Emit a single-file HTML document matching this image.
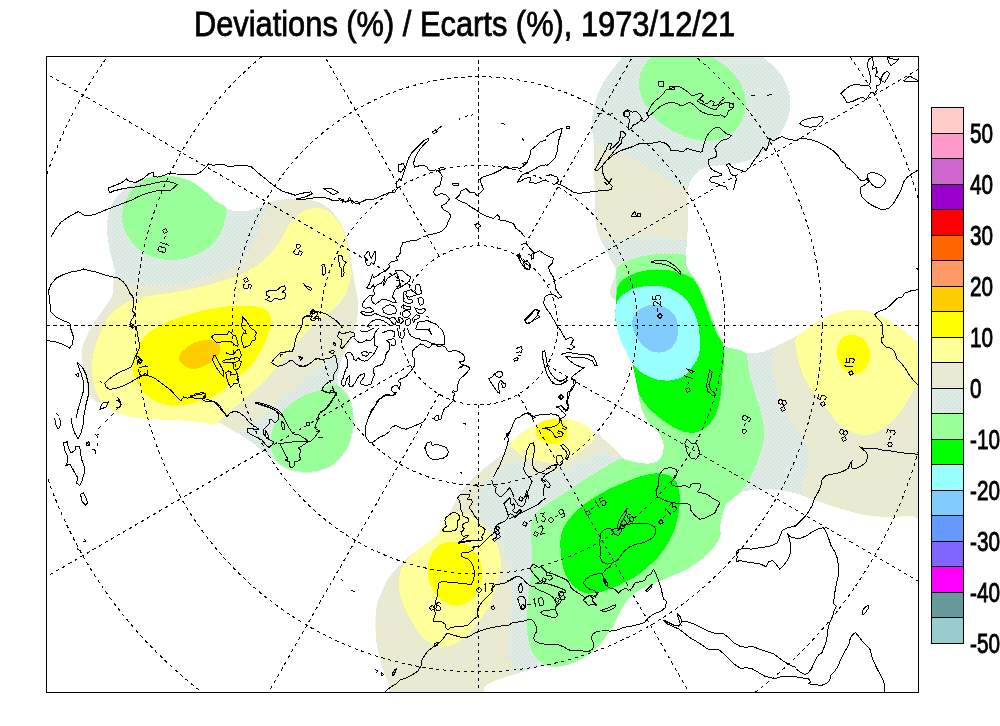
<!DOCTYPE html>
<html><head><meta charset="utf-8"><title>Deviations</title>
<style>
html,body{margin:0;padding:0;background:#fff;}
body{width:1000px;height:726px;overflow:hidden;position:relative;font-family:"Liberation Sans",sans-serif;}
svg{position:absolute;left:0;top:0;}
.t{font-family:"Liberation Sans",sans-serif;fill:#000;stroke:#000;stroke-width:0.5px;filter:url(#noop);}
</style></head><body>
<svg width="1000" height="726" viewBox="0 0 1000 726" shape-rendering="crispEdges">
<defs>
<pattern id="dY" width="4" height="4" patternUnits="userSpaceOnUse"><rect width="4" height="4" fill="#E6E6EE"/><rect x="0" y="0" width="1" height="1" fill="#FFFF00"/><rect x="2" y="2" width="1" height="1" fill="#FFFF00"/></pattern>
<pattern id="dG" width="4" height="4" patternUnits="userSpaceOnUse"><rect width="4" height="4" fill="#E6E6EE"/><rect x="0" y="0" width="1" height="1" fill="#99FF99"/><rect x="2" y="2" width="1" height="1" fill="#99FF99"/></pattern>
<filter id="noop" x="-5%" y="-20%" width="110%" height="140%"><feOffset dx="0" dy="0"/></filter>
<clipPath id="clip"><rect x="47" y="57" width="871" height="635"/></clipPath>
</defs>
<rect width="1000" height="726" fill="#fff"/>
<!--FILLS-->
<g clip-path="url(#clip)" stroke="none">
<defs>
<clipPath id="cL"><path d="M138.0,181.0 C134.7,182.6 129.7,185.2 126.0,188.0 C122.3,190.8 118.7,194.3 116.0,198.0 C113.3,201.7 111.5,205.7 110.0,210.0 C108.5,214.3 107.3,219.0 107.0,224.0 C106.7,229.0 107.3,234.7 108.0,240.0 C108.7,245.3 109.8,250.7 111.0,256.0 C112.2,261.3 114.7,267.3 115.0,272.0 C115.3,276.7 113.3,280.3 113.0,284.0 C112.7,287.7 114.2,290.3 113.0,294.0 C111.8,297.7 108.8,301.7 106.0,306.0 C103.2,310.3 99.2,315.0 96.0,320.0 C92.8,325.0 89.3,331.0 87.0,336.0 C84.7,341.0 82.7,345.0 82.0,350.0 C81.3,355.0 82.5,361.0 83.0,366.0 C83.5,371.0 84.0,375.3 85.0,380.0 C86.0,384.7 87.0,390.3 89.0,394.0 C91.0,397.7 94.2,400.7 97.0,402.0 C99.8,403.3 102.5,400.8 106.0,402.0 C109.5,403.2 113.7,407.0 118.0,409.0 C122.3,411.0 126.7,412.8 132.0,414.0 C137.3,415.2 143.7,415.5 150.0,416.0 C156.3,416.5 163.3,416.7 170.0,417.0 C176.7,417.3 184.0,417.5 190.0,418.0 C196.0,418.5 201.0,419.2 206.0,420.0 C211.0,420.8 215.7,421.3 220.0,423.0 C224.3,424.7 228.0,427.7 232.0,430.0 C236.0,432.3 240.3,434.7 244.0,437.0 C247.7,439.3 250.7,441.5 254.0,444.0 C257.3,446.5 261.2,449.7 264.0,452.0 C266.8,454.3 268.5,456.0 271.0,458.0 C273.5,460.0 276.0,462.0 279.0,464.0 C282.0,466.0 285.2,468.6 289.0,470.0 C292.8,471.4 297.5,472.3 302.0,472.6 C306.5,472.9 311.3,472.9 316.0,472.0 C320.7,471.1 326.0,469.2 330.0,467.0 C334.0,464.8 337.0,462.3 340.0,459.0 C343.0,455.7 345.8,451.5 348.0,447.0 C350.2,442.5 352.0,436.8 353.0,432.0 C354.0,427.2 354.2,422.7 354.0,418.0 C353.8,413.3 353.0,408.0 352.0,404.0 C351.0,400.0 349.5,396.5 348.0,394.0 C346.5,391.5 344.7,390.5 343.0,389.0 C341.3,387.5 338.8,386.8 338.0,385.0 C337.2,383.2 337.8,380.5 338.0,378.0 C338.2,375.5 338.3,373.3 339.0,370.0 C339.7,366.7 340.7,361.7 342.0,358.0 C343.3,354.3 345.3,351.3 347.0,348.0 C348.7,344.7 350.6,341.7 352.0,338.0 C353.4,334.3 354.7,330.0 355.6,326.0 C356.5,322.0 357.2,318.0 357.6,314.0 C358.0,310.0 358.3,306.0 358.0,302.0 C357.7,298.0 356.7,293.7 356.0,290.0 C355.3,286.3 354.7,283.7 354.0,280.0 C353.3,276.3 352.7,272.3 352.0,268.0 C351.3,263.7 350.8,258.7 350.0,254.0 C349.2,249.3 348.3,244.7 347.0,240.0 C345.7,235.3 344.2,230.3 342.0,226.0 C339.8,221.7 337.0,217.5 334.0,214.0 C331.0,210.5 328.0,207.3 324.0,205.0 C320.0,202.7 315.7,201.0 310.0,200.0 C304.3,199.0 296.0,198.8 290.0,199.0 C284.0,199.2 278.3,200.0 274.0,201.0 C269.7,202.0 266.7,203.8 264.0,205.0 C261.3,206.2 261.0,207.0 258.0,208.0 C255.0,209.0 250.0,210.5 246.0,211.0 C242.0,211.5 237.3,211.5 234.0,211.0 C230.7,210.5 229.0,209.7 226.0,208.0 C223.0,206.3 219.3,203.7 216.0,201.0 C212.7,198.3 209.7,195.0 206.0,192.0 C202.3,189.0 198.0,185.3 194.0,183.0 C190.0,180.7 186.0,179.2 182.0,178.0 C178.0,176.8 173.7,176.4 170.0,176.0 C166.3,175.6 162.7,175.6 160.0,175.6 C157.3,175.6 156.3,175.5 154.0,176.0 C151.7,176.5 148.7,177.7 146.0,178.5 C143.3,179.3 141.3,179.4 138.0,181.0 Z"/></clipPath>
<clipPath id="cU1"><path d="M650.0,30.0 C641.0,33.3 640.5,37.5 636.0,42.0 C631.5,46.5 627.5,51.4 623.0,56.7 C618.5,62.0 613.2,68.0 609.0,74.0 C604.8,80.0 600.7,86.7 598.0,93.0 C595.3,99.3 594.0,106.0 593.0,112.0 C592.0,118.0 591.8,123.7 592.0,129.0 C592.2,134.3 593.6,135.5 594.0,144.0 C594.4,152.5 594.3,170.7 594.5,180.0 C594.7,189.3 594.8,192.7 595.0,200.0 C595.2,207.3 595.2,217.7 596.0,224.0 C596.8,230.3 598.3,233.7 600.0,238.0 C601.7,242.3 604.0,246.0 606.0,250.0 C608.0,254.0 610.3,258.3 612.0,262.0 C613.7,265.7 615.3,265.7 616.0,272.0 C616.7,278.3 602.0,295.3 616.0,300.0 C630.0,304.7 687.7,304.7 700.0,300.0 C712.3,295.3 692.3,278.3 690.0,272.0 C687.7,265.7 686.5,267.3 686.0,262.0 C685.5,256.7 686.7,246.3 687.0,240.0 C687.3,233.7 687.8,228.5 688.0,224.0 C688.2,219.5 688.2,217.2 688.0,213.0 C687.8,208.8 687.0,203.3 687.0,199.0 C687.0,194.7 687.0,190.7 688.0,187.0 C689.0,183.3 691.0,179.8 693.0,177.0 C695.0,174.2 696.8,171.8 700.0,170.0 C703.2,168.2 707.7,166.8 712.0,166.0 C716.3,165.2 720.8,165.7 726.0,165.0 C731.2,164.3 737.7,163.5 743.0,162.0 C748.3,160.5 753.2,159.0 758.0,156.0 C762.8,153.0 767.8,148.5 772.0,144.0 C776.2,139.5 780.2,133.8 783.0,129.0 C785.8,124.2 787.8,120.2 789.0,115.0 C790.2,109.8 790.5,103.2 790.0,98.0 C789.5,92.8 788.2,88.8 786.0,84.0 C783.8,79.2 781.0,73.5 777.0,69.0 C773.0,64.5 767.3,61.2 762.0,56.7 C756.7,52.2 751.2,46.5 745.0,42.0 C738.8,37.5 734.2,33.3 725.0,30.0 C715.8,26.7 702.5,22.0 690.0,22.0 C677.5,22.0 659.0,26.7 650.0,30.0 Z"/></clipPath>
<clipPath id="cU2"><path d="M616.0,279.0 C616.2,274.2 615.8,270.0 617.6,267.0 C619.4,264.0 622.9,262.8 627.0,261.0 C631.1,259.2 636.8,257.6 642.0,256.4 C647.2,255.2 652.8,254.4 658.0,254.0 C663.2,253.6 668.5,253.8 673.0,254.0 C677.5,254.2 682.8,253.2 685.0,255.0 C687.2,256.8 685.2,262.2 686.0,265.0 C686.8,267.8 688.2,269.2 690.0,272.0 C691.8,274.8 695.3,279.0 697.0,282.0 C698.7,285.0 698.5,286.3 700.0,290.0 C701.5,293.7 704.0,299.0 706.0,304.0 C708.0,309.0 710.0,314.8 712.0,320.0 C714.0,325.2 716.0,330.8 718.0,335.0 C720.0,339.2 722.3,342.8 724.0,345.0 C725.7,347.2 724.7,346.8 728.0,348.0 C731.3,349.2 738.7,351.7 744.0,352.4 C749.3,353.1 755.2,353.1 760.0,352.4 C764.8,351.7 768.3,349.7 772.5,348.0 C776.7,346.3 781.1,343.8 785.0,342.0 C788.9,340.2 792.4,338.8 795.6,337.0 C798.8,335.2 800.9,333.6 804.0,331.4 C807.1,329.2 810.7,326.4 814.5,324.0 C818.3,321.6 822.8,318.7 827.0,316.7 C831.2,314.7 835.5,313.1 840.0,312.0 C844.5,310.9 849.2,310.1 854.0,310.0 C858.8,309.9 864.3,310.4 869.0,311.5 C873.7,312.6 877.8,314.6 882.0,316.7 C886.2,318.8 890.0,321.4 894.0,324.0 C898.0,326.6 902.5,329.7 906.0,332.5 C909.5,335.3 911.8,338.4 915.0,341.0 C918.2,343.6 920.0,333.2 925.0,348.0 C930.0,362.8 944.2,402.1 945.0,430.0 C945.8,457.9 935.5,501.2 930.0,515.5 C924.5,529.8 917.2,515.8 912.0,516.0 C906.8,516.2 903.9,516.4 898.5,516.5 C893.1,516.6 885.6,516.9 879.6,516.5 C873.6,516.1 868.4,515.4 862.8,514.4 C857.2,513.4 851.6,511.8 846.0,510.2 C840.4,508.6 834.7,506.9 829.0,505.0 C823.3,503.1 817.2,500.8 812.0,499.0 C806.8,497.2 802.8,495.4 798.0,494.0 C793.2,492.6 788.0,491.5 783.0,490.7 C778.0,489.9 772.8,489.3 768.0,489.2 C763.2,489.1 758.5,489.5 754.0,490.0 C749.5,490.5 744.5,490.6 741.0,492.0 C737.5,493.4 735.5,496.5 733.0,498.7 C730.5,500.9 727.7,502.6 726.0,505.0 C724.3,507.4 724.0,509.9 723.0,513.4 C722.0,516.9 720.5,522.1 720.0,526.0 C719.5,529.9 721.7,532.7 720.0,537.0 C718.3,541.3 714.0,547.2 710.0,551.6 C706.0,556.0 701.2,560.0 696.0,563.6 C690.8,567.2 684.7,570.3 679.0,573.0 C673.3,575.7 667.2,577.8 662.0,580.0 C656.8,582.2 652.3,584.0 648.0,586.0 C643.7,588.0 639.7,589.3 636.0,592.0 C632.3,594.7 628.8,598.3 626.0,602.0 C623.2,605.7 621.2,610.0 619.0,614.0 C616.8,618.0 615.3,622.0 613.0,626.0 C610.7,630.0 608.0,634.0 605.0,638.0 C602.0,642.0 598.7,646.7 595.0,650.0 C591.3,653.3 587.3,655.6 583.0,658.0 C578.7,660.4 573.8,662.9 569.0,664.4 C564.2,665.9 557.7,666.8 554.0,667.0 C550.3,667.2 549.3,665.5 547.0,665.5 C544.7,665.5 543.2,666.0 540.0,666.8 C536.8,667.6 532.8,669.0 528.0,670.4 C523.2,671.8 516.7,673.4 511.0,675.2 C505.3,677.0 498.5,679.0 494.0,681.0 C489.5,683.0 487.0,684.3 484.0,687.0 C481.0,689.7 490.7,695.3 476.0,697.0 C461.3,698.7 410.3,699.0 396.0,697.0 C381.7,695.0 392.0,689.0 390.0,685.0 C388.0,681.0 385.7,677.5 384.0,673.0 C382.3,668.5 381.2,663.2 380.0,658.0 C378.8,652.8 377.2,647.5 376.5,642.0 C375.8,636.5 375.5,630.7 375.5,625.0 C375.5,619.3 375.6,613.2 376.5,608.0 C377.4,602.8 379.1,598.8 381.0,594.0 C382.9,589.2 385.2,583.5 388.0,579.0 C390.8,574.5 394.3,570.8 398.0,567.0 C401.7,563.2 406.3,559.0 410.0,556.0 C413.7,553.0 416.9,550.8 420.0,549.0 C423.1,547.2 426.0,547.3 428.8,545.0 C431.6,542.7 434.5,538.1 436.8,535.0 C439.1,531.9 440.8,529.4 442.4,526.4 C444.0,523.4 444.9,519.5 446.4,516.8 C447.9,514.1 449.9,512.5 451.2,510.4 C452.5,508.3 453.1,506.7 454.4,504.0 C455.7,501.3 457.1,497.6 459.2,494.4 C461.3,491.2 463.7,488.5 467.2,484.8 C470.7,481.1 475.2,476.3 480.0,472.0 C484.8,467.7 491.8,462.6 496.0,459.2 C500.2,455.8 502.8,453.9 505.0,451.5 C507.2,449.1 506.8,447.6 509.0,445.0 C511.2,442.4 514.8,438.7 518.0,436.0 C521.2,433.3 524.5,431.2 528.0,429.0 C531.5,426.8 535.5,424.6 539.0,423.0 C542.5,421.4 545.0,420.4 549.0,419.6 C553.0,418.8 558.7,418.2 563.0,418.4 C567.3,418.6 571.2,419.8 575.0,421.0 C578.8,422.2 583.0,423.8 586.0,425.6 C589.0,427.4 591.0,430.2 593.0,431.6 C595.0,433.0 596.2,432.6 598.0,434.0 C599.8,435.4 601.3,437.7 604.0,440.0 C606.7,442.3 611.2,445.3 614.0,448.0 C616.8,450.7 619.2,454.2 621.0,456.0 C622.8,457.8 622.5,457.9 625.0,459.0 C627.5,460.1 632.2,461.6 636.0,462.4 C639.8,463.2 644.4,463.8 648.0,463.6 C651.6,463.4 655.2,462.8 657.6,461.2 C660.0,459.6 661.4,456.8 662.4,454.0 C663.4,451.2 664.0,447.6 663.6,444.4 C663.2,441.2 661.6,437.5 660.0,434.8 C658.4,432.1 655.8,429.8 654.0,428.0 C652.2,426.2 651.2,427.1 649.2,424.0 C647.2,420.9 643.8,414.4 642.0,409.6 C640.2,404.8 639.4,400.0 638.4,395.2 C637.4,390.4 637.0,386.0 636.0,380.8 C635.0,375.6 634.0,368.8 632.4,364.0 C630.8,359.2 628.2,356.0 626.4,352.0 C624.6,348.0 623.3,344.2 621.6,340.0 C619.9,335.8 617.5,331.5 616.4,327.0 C615.3,322.5 615.3,316.2 615.2,313.0 C615.1,309.8 615.5,310.8 615.7,308.0 C615.9,305.2 616.4,300.8 616.4,296.0 C616.4,291.2 615.8,283.8 616.0,279.0 Z"/></clipPath>
</defs>
<path d="M138.0,181.0 C134.7,182.6 129.7,185.2 126.0,188.0 C122.3,190.8 118.7,194.3 116.0,198.0 C113.3,201.7 111.5,205.7 110.0,210.0 C108.5,214.3 107.3,219.0 107.0,224.0 C106.7,229.0 107.3,234.7 108.0,240.0 C108.7,245.3 109.8,250.7 111.0,256.0 C112.2,261.3 114.7,267.3 115.0,272.0 C115.3,276.7 113.3,280.3 113.0,284.0 C112.7,287.7 114.2,290.3 113.0,294.0 C111.8,297.7 108.8,301.7 106.0,306.0 C103.2,310.3 99.2,315.0 96.0,320.0 C92.8,325.0 89.3,331.0 87.0,336.0 C84.7,341.0 82.7,345.0 82.0,350.0 C81.3,355.0 82.5,361.0 83.0,366.0 C83.5,371.0 84.0,375.3 85.0,380.0 C86.0,384.7 87.0,390.3 89.0,394.0 C91.0,397.7 94.2,400.7 97.0,402.0 C99.8,403.3 102.5,400.8 106.0,402.0 C109.5,403.2 113.7,407.0 118.0,409.0 C122.3,411.0 126.7,412.8 132.0,414.0 C137.3,415.2 143.7,415.5 150.0,416.0 C156.3,416.5 163.3,416.7 170.0,417.0 C176.7,417.3 184.0,417.5 190.0,418.0 C196.0,418.5 201.0,419.2 206.0,420.0 C211.0,420.8 215.7,421.3 220.0,423.0 C224.3,424.7 228.0,427.7 232.0,430.0 C236.0,432.3 240.3,434.7 244.0,437.0 C247.7,439.3 250.7,441.5 254.0,444.0 C257.3,446.5 261.2,449.7 264.0,452.0 C266.8,454.3 268.5,456.0 271.0,458.0 C273.5,460.0 276.0,462.0 279.0,464.0 C282.0,466.0 285.2,468.6 289.0,470.0 C292.8,471.4 297.5,472.3 302.0,472.6 C306.5,472.9 311.3,472.9 316.0,472.0 C320.7,471.1 326.0,469.2 330.0,467.0 C334.0,464.8 337.0,462.3 340.0,459.0 C343.0,455.7 345.8,451.5 348.0,447.0 C350.2,442.5 352.0,436.8 353.0,432.0 C354.0,427.2 354.2,422.7 354.0,418.0 C353.8,413.3 353.0,408.0 352.0,404.0 C351.0,400.0 349.5,396.5 348.0,394.0 C346.5,391.5 344.7,390.5 343.0,389.0 C341.3,387.5 338.8,386.8 338.0,385.0 C337.2,383.2 337.8,380.5 338.0,378.0 C338.2,375.5 338.3,373.3 339.0,370.0 C339.7,366.7 340.7,361.7 342.0,358.0 C343.3,354.3 345.3,351.3 347.0,348.0 C348.7,344.7 350.6,341.7 352.0,338.0 C353.4,334.3 354.7,330.0 355.6,326.0 C356.5,322.0 357.2,318.0 357.6,314.0 C358.0,310.0 358.3,306.0 358.0,302.0 C357.7,298.0 356.7,293.7 356.0,290.0 C355.3,286.3 354.7,283.7 354.0,280.0 C353.3,276.3 352.7,272.3 352.0,268.0 C351.3,263.7 350.8,258.7 350.0,254.0 C349.2,249.3 348.3,244.7 347.0,240.0 C345.7,235.3 344.2,230.3 342.0,226.0 C339.8,221.7 337.0,217.5 334.0,214.0 C331.0,210.5 328.0,207.3 324.0,205.0 C320.0,202.7 315.7,201.0 310.0,200.0 C304.3,199.0 296.0,198.8 290.0,199.0 C284.0,199.2 278.3,200.0 274.0,201.0 C269.7,202.0 266.7,203.8 264.0,205.0 C261.3,206.2 261.0,207.0 258.0,208.0 C255.0,209.0 250.0,210.5 246.0,211.0 C242.0,211.5 237.3,211.5 234.0,211.0 C230.7,210.5 229.0,209.7 226.0,208.0 C223.0,206.3 219.3,203.7 216.0,201.0 C212.7,198.3 209.7,195.0 206.0,192.0 C202.3,189.0 198.0,185.3 194.0,183.0 C190.0,180.7 186.0,179.2 182.0,178.0 C178.0,176.8 173.7,176.4 170.0,176.0 C166.3,175.6 162.7,175.6 160.0,175.6 C157.3,175.6 156.3,175.5 154.0,176.0 C151.7,176.5 148.7,177.7 146.0,178.5 C143.3,179.3 141.3,179.4 138.0,181.0 Z" fill="url(#dG)"/>
<path d="M270.0,190.0 C251.3,192.2 269.3,198.7 268.0,203.0 C266.7,207.3 264.3,209.8 262.0,216.0 C259.7,222.2 257.7,232.7 254.0,240.0 C250.3,247.3 245.7,254.7 240.0,260.0 C234.3,265.3 228.3,268.3 220.0,272.0 C211.7,275.7 200.0,279.7 190.0,282.0 C180.0,284.3 169.2,285.7 160.0,286.0 C150.8,286.3 144.2,285.0 135.0,284.0 C125.8,283.0 117.5,279.0 105.0,280.0 C92.5,281.0 67.5,261.7 60.0,290.0 C52.5,318.3 32.5,424.7 60.0,450.0 C87.5,475.3 195.3,444.8 225.0,442.0 C254.7,439.2 233.8,435.7 238.0,433.0 C242.2,430.3 245.7,429.2 250.0,426.0 C254.3,422.8 259.0,418.3 264.0,414.0 C269.0,409.7 274.7,404.7 280.0,400.0 C285.3,395.3 291.0,390.3 296.0,386.0 C301.0,381.7 305.0,378.0 310.0,374.0 C315.0,370.0 320.2,366.0 326.0,362.0 C331.8,358.0 337.7,353.2 345.0,350.0 C352.3,346.8 364.2,369.7 370.0,343.0 C375.8,316.3 396.7,215.5 380.0,190.0 C363.3,164.5 288.7,187.8 270.0,190.0 Z" fill="url(#dY)" clip-path="url(#cL)"/>
<path d="M92.0,366.0 C92.2,361.0 92.7,355.3 94.0,350.0 C95.3,344.7 97.5,339.7 100.0,334.0 C102.5,328.3 105.0,321.0 109.0,316.0 C113.0,311.0 118.0,307.2 124.0,304.0 C130.0,300.8 136.5,298.6 145.0,296.6 C153.5,294.6 165.0,293.8 175.0,292.0 C185.0,290.2 195.8,288.3 205.0,286.0 C214.2,283.7 223.8,280.0 230.0,278.0 C236.2,276.0 237.7,276.0 242.0,274.0 C246.3,272.0 251.7,269.0 256.0,266.0 C260.3,263.0 264.3,259.7 268.0,256.0 C271.7,252.3 275.2,248.0 278.0,244.0 C280.8,240.0 282.7,236.0 285.0,232.0 C287.3,228.0 289.2,223.3 292.0,220.0 C294.8,216.7 298.3,214.0 302.0,212.0 C305.7,210.0 310.0,208.3 314.0,208.0 C318.0,207.7 322.3,208.3 326.0,210.0 C329.7,211.7 333.2,214.7 336.0,218.0 C338.8,221.3 341.2,225.7 343.0,230.0 C344.8,234.3 345.9,239.0 347.0,244.0 C348.1,249.0 348.9,254.7 349.6,260.0 C350.3,265.3 351.3,271.3 351.0,276.0 C350.7,280.7 349.5,284.0 348.0,288.0 C346.5,292.0 345.0,296.0 342.0,300.0 C339.0,304.0 334.3,308.2 330.0,312.0 C325.7,315.8 320.3,319.2 316.0,323.0 C311.7,326.8 308.0,330.7 304.0,335.0 C300.0,339.3 296.0,344.3 292.0,349.0 C288.0,353.7 284.0,358.3 280.0,363.0 C276.0,367.7 272.0,372.7 268.0,377.0 C264.0,381.3 260.0,385.2 256.0,389.0 C252.0,392.8 248.3,396.3 244.0,400.0 C239.7,403.7 234.0,407.7 230.0,411.0 C226.0,414.3 222.7,417.7 220.0,420.0 C217.3,422.3 216.3,424.5 214.0,425.0 C211.7,425.5 210.0,423.7 206.0,423.0 C202.0,422.3 196.0,421.5 190.0,421.0 C184.0,420.5 176.7,420.3 170.0,420.0 C163.3,419.7 156.3,419.5 150.0,419.0 C143.7,418.5 137.7,418.2 132.0,417.0 C126.3,415.8 120.7,414.2 116.0,412.0 C111.3,409.8 107.2,407.0 104.0,404.0 C100.8,401.0 98.8,398.0 97.0,394.0 C95.2,390.0 93.8,384.7 93.0,380.0 C92.2,375.3 91.8,371.0 92.0,366.0 Z" fill="#FFFF99"/>
<path d="M132.0,366.0 C132.2,361.3 134.2,354.7 136.0,350.0 C137.8,345.3 140.0,341.5 143.0,338.0 C146.0,334.5 149.5,331.8 154.0,329.0 C158.5,326.2 164.0,323.5 170.0,321.0 C176.0,318.5 183.3,316.0 190.0,314.0 C196.7,312.0 203.3,310.3 210.0,309.0 C216.7,307.7 224.7,306.6 230.0,306.0 C235.3,305.4 237.7,305.5 242.0,305.6 C246.3,305.7 252.0,305.7 256.0,306.4 C260.0,307.1 263.5,308.2 266.0,310.0 C268.5,311.8 270.3,314.0 271.0,317.0 C271.7,320.0 270.8,324.2 270.0,328.0 C269.2,331.8 267.7,336.0 266.0,340.0 C264.3,344.0 262.3,348.0 260.0,352.0 C257.7,356.0 255.0,360.3 252.0,364.0 C249.0,367.7 245.7,370.5 242.0,374.0 C238.3,377.5 234.7,381.3 230.0,385.0 C225.3,388.7 219.3,393.2 214.0,396.0 C208.7,398.8 203.3,400.5 198.0,402.0 C192.7,403.5 187.3,404.5 182.0,405.0 C176.7,405.5 171.0,406.0 166.0,405.0 C161.0,404.0 156.0,401.5 152.0,399.0 C148.0,396.5 144.8,393.5 142.0,390.0 C139.2,386.5 136.7,382.0 135.0,378.0 C133.3,374.0 131.8,370.7 132.0,366.0 Z" fill="#FFFF00"/>
<path d="M179.0,356.0 C179.6,354.0 181.8,352.0 184.0,350.0 C186.2,348.0 189.0,345.6 192.0,344.0 C195.0,342.4 198.7,341.0 202.0,340.4 C205.3,339.8 209.2,339.8 212.0,340.4 C214.8,341.0 217.6,342.4 219.0,344.0 C220.4,345.6 220.7,347.8 220.4,350.0 C220.1,352.2 218.7,354.8 217.0,357.0 C215.3,359.2 212.5,361.3 210.0,363.0 C207.5,364.7 204.7,366.0 202.0,367.0 C199.3,368.0 196.7,369.0 194.0,369.0 C191.3,369.0 188.3,368.2 186.0,367.0 C183.7,365.8 181.6,363.8 180.4,362.0 C179.2,360.2 178.4,358.0 179.0,356.0 Z" fill="#FFCC00"/>
<path d="M160.0,176.0 C162.7,175.9 166.3,175.7 170.0,176.0 C173.7,176.3 178.0,176.8 182.0,178.0 C186.0,179.2 190.0,180.7 194.0,183.0 C198.0,185.3 202.3,189.0 206.0,192.0 C209.7,195.0 212.7,198.3 216.0,201.0 C219.3,203.7 224.5,204.8 226.0,208.0 C227.5,211.2 225.7,216.3 225.0,220.0 C224.3,223.7 223.5,226.7 222.0,230.0 C220.5,233.3 218.3,237.0 216.0,240.0 C213.7,243.0 211.0,245.7 208.0,248.0 C205.0,250.3 201.7,252.3 198.0,254.0 C194.3,255.7 190.0,257.0 186.0,258.0 C182.0,259.0 178.0,259.8 174.0,260.0 C170.0,260.2 166.0,260.1 162.0,259.4 C158.0,258.7 153.7,257.6 150.0,256.0 C146.3,254.4 143.2,252.5 140.0,250.0 C136.8,247.5 133.5,244.2 131.0,241.0 C128.5,237.8 126.5,234.5 125.0,231.0 C123.5,227.5 122.3,223.8 122.0,220.0 C121.7,216.2 122.0,212.0 123.0,208.0 C124.0,204.0 125.8,199.7 128.0,196.0 C130.2,192.3 133.0,188.8 136.0,186.0 C139.0,183.2 143.0,180.6 146.0,179.0 C149.0,177.4 151.7,176.9 154.0,176.4 C156.3,175.9 157.3,176.1 160.0,176.0 Z" fill="#99FF99"/>
<path d="M322.0,390.0 C325.0,388.8 325.7,386.4 328.0,385.6 C330.3,384.8 333.7,384.4 336.0,385.0 C338.3,385.6 340.2,387.2 342.0,389.0 C343.8,390.8 345.5,393.5 347.0,396.0 C348.5,398.5 350.0,400.3 351.0,404.0 C352.0,407.7 352.8,413.3 353.0,418.0 C353.2,422.7 352.8,427.3 352.0,432.0 C351.2,436.7 350.0,441.7 348.0,446.0 C346.0,450.3 343.0,454.7 340.0,458.0 C337.0,461.3 334.0,463.8 330.0,466.0 C326.0,468.2 320.7,470.1 316.0,471.0 C311.3,471.9 306.5,471.9 302.0,471.6 C297.5,471.3 292.8,470.4 289.0,469.0 C285.2,467.6 281.7,465.5 279.0,463.0 C276.3,460.5 274.3,457.2 273.0,454.0 C271.7,450.8 271.2,447.7 271.0,444.0 C270.8,440.3 271.0,436.0 272.0,432.0 C273.0,428.0 274.7,424.0 277.0,420.0 C279.3,416.0 282.5,411.5 286.0,408.0 C289.5,404.5 294.0,401.5 298.0,399.0 C302.0,396.5 306.0,394.5 310.0,393.0 C314.0,391.5 319.0,391.2 322.0,390.0 Z" fill="#99FF99"/>
<path d="M650.0,30.0 C641.0,33.3 640.5,37.5 636.0,42.0 C631.5,46.5 627.5,51.4 623.0,56.7 C618.5,62.0 613.2,68.0 609.0,74.0 C604.8,80.0 600.7,86.7 598.0,93.0 C595.3,99.3 594.0,106.0 593.0,112.0 C592.0,118.0 591.8,123.7 592.0,129.0 C592.2,134.3 593.6,135.5 594.0,144.0 C594.4,152.5 594.3,170.7 594.5,180.0 C594.7,189.3 594.8,192.7 595.0,200.0 C595.2,207.3 595.2,217.7 596.0,224.0 C596.8,230.3 598.3,233.7 600.0,238.0 C601.7,242.3 604.0,246.0 606.0,250.0 C608.0,254.0 610.3,258.3 612.0,262.0 C613.7,265.7 615.3,265.7 616.0,272.0 C616.7,278.3 602.0,295.3 616.0,300.0 C630.0,304.7 687.7,304.7 700.0,300.0 C712.3,295.3 692.3,278.3 690.0,272.0 C687.7,265.7 686.5,267.3 686.0,262.0 C685.5,256.7 686.7,246.3 687.0,240.0 C687.3,233.7 687.8,228.5 688.0,224.0 C688.2,219.5 688.2,217.2 688.0,213.0 C687.8,208.8 687.0,203.3 687.0,199.0 C687.0,194.7 687.0,190.7 688.0,187.0 C689.0,183.3 691.0,179.8 693.0,177.0 C695.0,174.2 696.8,171.8 700.0,170.0 C703.2,168.2 707.7,166.8 712.0,166.0 C716.3,165.2 720.8,165.7 726.0,165.0 C731.2,164.3 737.7,163.5 743.0,162.0 C748.3,160.5 753.2,159.0 758.0,156.0 C762.8,153.0 767.8,148.5 772.0,144.0 C776.2,139.5 780.2,133.8 783.0,129.0 C785.8,124.2 787.8,120.2 789.0,115.0 C790.2,109.8 790.5,103.2 790.0,98.0 C789.5,92.8 788.2,88.8 786.0,84.0 C783.8,79.2 781.0,73.5 777.0,69.0 C773.0,64.5 767.3,61.2 762.0,56.7 C756.7,52.2 751.2,46.5 745.0,42.0 C738.8,37.5 734.2,33.3 725.0,30.0 C715.8,26.7 702.5,22.0 690.0,22.0 C677.5,22.0 659.0,26.7 650.0,30.0 Z" fill="url(#dG)"/>
<path d="M585.0,143.6 C586.6,128.2 591.2,143.2 594.4,143.6 C597.6,144.0 600.0,144.8 604.0,146.0 C608.0,147.2 613.6,148.8 618.4,150.8 C623.2,152.8 627.6,155.2 632.8,158.0 C638.0,160.8 644.4,164.4 649.6,167.6 C654.8,170.8 659.6,174.4 664.0,177.2 C668.4,180.0 670.8,181.9 676.0,184.4 C681.2,186.9 691.8,183.1 695.0,192.0 C698.2,200.9 700.8,230.7 695.0,238.0 C689.2,245.3 670.8,236.0 660.0,236.0 C649.2,236.0 639.2,237.3 630.0,238.0 C620.8,238.7 612.5,240.3 605.0,240.0 C597.5,239.7 588.3,252.1 585.0,236.0 C581.7,219.9 583.4,159.0 585.0,143.6 Z" fill="url(#dY)" clip-path="url(#cU1)"/>
<path d="M670.0,42.0 C665.8,43.2 663.0,45.5 660.0,48.0 C657.0,50.5 654.7,53.6 652.0,56.7 C649.3,59.8 645.8,62.7 643.6,66.8 C641.4,70.9 639.2,76.4 638.8,81.2 C638.4,86.0 639.6,90.8 641.2,95.6 C642.8,100.4 645.4,105.6 648.4,110.0 C651.4,114.4 655.0,118.4 659.2,122.0 C663.4,125.6 668.8,129.0 673.6,131.6 C678.4,134.2 683.2,136.1 688.0,137.6 C692.8,139.1 697.6,140.3 702.4,140.7 C707.2,141.1 712.4,140.9 716.8,140.0 C721.2,139.1 725.2,137.4 728.8,135.2 C732.4,133.0 735.8,130.2 738.4,126.8 C741.0,123.4 743.2,119.2 744.4,114.8 C745.6,110.4 746.0,105.2 745.6,100.4 C745.2,95.6 744.0,90.4 742.0,86.0 C740.0,81.6 737.0,77.8 733.6,74.0 C730.2,70.2 725.2,66.1 721.6,63.2 C718.0,60.3 715.6,59.4 712.0,56.7 C708.4,54.0 704.5,49.6 700.0,47.0 C695.5,44.4 690.0,41.8 685.0,41.0 C680.0,40.2 674.2,40.8 670.0,42.0 Z" fill="#99FF99"/>
<path d="M616.0,279.0 C616.2,274.2 615.8,270.0 617.6,267.0 C619.4,264.0 622.9,262.8 627.0,261.0 C631.1,259.2 636.8,257.6 642.0,256.4 C647.2,255.2 652.8,254.4 658.0,254.0 C663.2,253.6 668.5,253.8 673.0,254.0 C677.5,254.2 682.8,253.2 685.0,255.0 C687.2,256.8 685.2,262.2 686.0,265.0 C686.8,267.8 688.2,269.2 690.0,272.0 C691.8,274.8 695.3,279.0 697.0,282.0 C698.7,285.0 698.5,286.3 700.0,290.0 C701.5,293.7 704.0,299.0 706.0,304.0 C708.0,309.0 710.0,314.8 712.0,320.0 C714.0,325.2 716.0,330.8 718.0,335.0 C720.0,339.2 722.3,342.8 724.0,345.0 C725.7,347.2 724.7,346.8 728.0,348.0 C731.3,349.2 738.7,351.7 744.0,352.4 C749.3,353.1 755.2,353.1 760.0,352.4 C764.8,351.7 768.3,349.7 772.5,348.0 C776.7,346.3 781.1,343.8 785.0,342.0 C788.9,340.2 792.4,338.8 795.6,337.0 C798.8,335.2 800.9,333.6 804.0,331.4 C807.1,329.2 810.7,326.4 814.5,324.0 C818.3,321.6 822.8,318.7 827.0,316.7 C831.2,314.7 835.5,313.1 840.0,312.0 C844.5,310.9 849.2,310.1 854.0,310.0 C858.8,309.9 864.3,310.4 869.0,311.5 C873.7,312.6 877.8,314.6 882.0,316.7 C886.2,318.8 890.0,321.4 894.0,324.0 C898.0,326.6 902.5,329.7 906.0,332.5 C909.5,335.3 911.8,338.4 915.0,341.0 C918.2,343.6 920.0,333.2 925.0,348.0 C930.0,362.8 944.2,402.1 945.0,430.0 C945.8,457.9 935.5,501.2 930.0,515.5 C924.5,529.8 917.2,515.8 912.0,516.0 C906.8,516.2 903.9,516.4 898.5,516.5 C893.1,516.6 885.6,516.9 879.6,516.5 C873.6,516.1 868.4,515.4 862.8,514.4 C857.2,513.4 851.6,511.8 846.0,510.2 C840.4,508.6 834.7,506.9 829.0,505.0 C823.3,503.1 817.2,500.8 812.0,499.0 C806.8,497.2 802.8,495.4 798.0,494.0 C793.2,492.6 788.0,491.5 783.0,490.7 C778.0,489.9 772.8,489.3 768.0,489.2 C763.2,489.1 758.5,489.5 754.0,490.0 C749.5,490.5 744.5,490.6 741.0,492.0 C737.5,493.4 735.5,496.5 733.0,498.7 C730.5,500.9 727.7,502.6 726.0,505.0 C724.3,507.4 724.0,509.9 723.0,513.4 C722.0,516.9 720.5,522.1 720.0,526.0 C719.5,529.9 721.7,532.7 720.0,537.0 C718.3,541.3 714.0,547.2 710.0,551.6 C706.0,556.0 701.2,560.0 696.0,563.6 C690.8,567.2 684.7,570.3 679.0,573.0 C673.3,575.7 667.2,577.8 662.0,580.0 C656.8,582.2 652.3,584.0 648.0,586.0 C643.7,588.0 639.7,589.3 636.0,592.0 C632.3,594.7 628.8,598.3 626.0,602.0 C623.2,605.7 621.2,610.0 619.0,614.0 C616.8,618.0 615.3,622.0 613.0,626.0 C610.7,630.0 608.0,634.0 605.0,638.0 C602.0,642.0 598.7,646.7 595.0,650.0 C591.3,653.3 587.3,655.6 583.0,658.0 C578.7,660.4 573.8,662.9 569.0,664.4 C564.2,665.9 557.7,666.8 554.0,667.0 C550.3,667.2 549.3,665.5 547.0,665.5 C544.7,665.5 543.2,666.0 540.0,666.8 C536.8,667.6 532.8,669.0 528.0,670.4 C523.2,671.8 516.7,673.4 511.0,675.2 C505.3,677.0 498.5,679.0 494.0,681.0 C489.5,683.0 487.0,684.3 484.0,687.0 C481.0,689.7 490.7,695.3 476.0,697.0 C461.3,698.7 410.3,699.0 396.0,697.0 C381.7,695.0 392.0,689.0 390.0,685.0 C388.0,681.0 385.7,677.5 384.0,673.0 C382.3,668.5 381.2,663.2 380.0,658.0 C378.8,652.8 377.2,647.5 376.5,642.0 C375.8,636.5 375.5,630.7 375.5,625.0 C375.5,619.3 375.6,613.2 376.5,608.0 C377.4,602.8 379.1,598.8 381.0,594.0 C382.9,589.2 385.2,583.5 388.0,579.0 C390.8,574.5 394.3,570.8 398.0,567.0 C401.7,563.2 406.3,559.0 410.0,556.0 C413.7,553.0 416.9,550.8 420.0,549.0 C423.1,547.2 426.0,547.3 428.8,545.0 C431.6,542.7 434.5,538.1 436.8,535.0 C439.1,531.9 440.8,529.4 442.4,526.4 C444.0,523.4 444.9,519.5 446.4,516.8 C447.9,514.1 449.9,512.5 451.2,510.4 C452.5,508.3 453.1,506.7 454.4,504.0 C455.7,501.3 457.1,497.6 459.2,494.4 C461.3,491.2 463.7,488.5 467.2,484.8 C470.7,481.1 475.2,476.3 480.0,472.0 C484.8,467.7 491.8,462.6 496.0,459.2 C500.2,455.8 502.8,453.9 505.0,451.5 C507.2,449.1 506.8,447.6 509.0,445.0 C511.2,442.4 514.8,438.7 518.0,436.0 C521.2,433.3 524.5,431.2 528.0,429.0 C531.5,426.8 535.5,424.6 539.0,423.0 C542.5,421.4 545.0,420.4 549.0,419.6 C553.0,418.8 558.7,418.2 563.0,418.4 C567.3,418.6 571.2,419.8 575.0,421.0 C578.8,422.2 583.0,423.8 586.0,425.6 C589.0,427.4 591.0,430.2 593.0,431.6 C595.0,433.0 596.2,432.6 598.0,434.0 C599.8,435.4 601.3,437.7 604.0,440.0 C606.7,442.3 611.2,445.3 614.0,448.0 C616.8,450.7 619.2,454.2 621.0,456.0 C622.8,457.8 622.5,457.9 625.0,459.0 C627.5,460.1 632.2,461.6 636.0,462.4 C639.8,463.2 644.4,463.8 648.0,463.6 C651.6,463.4 655.2,462.8 657.6,461.2 C660.0,459.6 661.4,456.8 662.4,454.0 C663.4,451.2 664.0,447.6 663.6,444.4 C663.2,441.2 661.6,437.5 660.0,434.8 C658.4,432.1 655.8,429.8 654.0,428.0 C652.2,426.2 651.2,427.1 649.2,424.0 C647.2,420.9 643.8,414.4 642.0,409.6 C640.2,404.8 639.4,400.0 638.4,395.2 C637.4,390.4 637.0,386.0 636.0,380.8 C635.0,375.6 634.0,368.8 632.4,364.0 C630.8,359.2 628.2,356.0 626.4,352.0 C624.6,348.0 623.3,344.2 621.6,340.0 C619.9,335.8 617.5,331.5 616.4,327.0 C615.3,322.5 615.3,316.2 615.2,313.0 C615.1,309.8 615.5,310.8 615.7,308.0 C615.9,305.2 616.4,300.8 616.4,296.0 C616.4,291.2 615.8,283.8 616.0,279.0 Z" fill="url(#dG)"/>
<path d="M800.0,300.0 C777.0,305.8 796.2,327.0 792.0,335.0 C787.8,343.0 778.3,342.2 775.0,348.0 C771.7,353.8 771.2,361.3 772.0,370.0 C772.8,378.7 777.2,391.7 780.0,400.0 C782.8,408.3 785.0,413.3 789.0,420.0 C793.0,426.7 800.8,432.8 804.0,440.0 C807.2,447.2 807.0,453.0 808.0,463.0 C809.0,473.0 789.7,489.7 810.0,500.0 C830.3,510.3 910.0,558.3 930.0,525.0 C950.0,491.7 951.7,337.5 930.0,300.0 C908.3,262.5 823.0,294.2 800.0,300.0 Z" fill="url(#dY)" clip-path="url(#cU2)"/>
<path d="M618.0,456.0 C612.3,462.7 610.0,450.3 606.0,450.0 C602.0,449.7 598.0,452.3 594.0,454.0 C590.0,455.7 586.0,458.0 582.0,460.0 C578.0,462.0 574.0,464.3 570.0,466.0 C566.0,467.7 562.0,468.8 558.0,470.0 C554.0,471.2 550.0,472.0 546.0,473.0 C542.0,474.0 537.3,476.5 534.0,476.0 C530.7,475.5 528.7,472.3 526.0,470.0 C523.3,467.7 521.0,463.0 518.0,462.0 C515.0,461.0 511.7,462.3 508.0,464.0 C504.3,465.7 499.7,469.0 496.0,472.0 C492.3,475.0 489.0,478.3 486.0,482.0 C483.0,485.7 479.7,490.0 478.0,494.0 C476.3,498.0 475.3,502.0 476.0,506.0 C476.7,510.0 479.3,514.0 482.0,518.0 C484.7,522.0 489.0,526.0 492.0,530.0 C495.0,534.0 497.7,537.3 500.0,542.0 C502.3,546.7 504.3,552.5 506.0,558.0 C507.7,563.5 509.2,568.0 510.0,575.0 C510.8,582.0 511.2,590.8 511.0,600.0 C510.8,609.2 509.5,620.8 509.0,630.0 C508.5,639.2 507.0,648.0 508.0,655.0 C509.0,662.0 513.8,664.5 515.0,672.0 C516.2,679.5 540.8,695.3 515.0,700.0 C489.2,704.7 385.8,730.0 360.0,700.0 C334.2,670.0 336.7,570.0 360.0,520.0 C383.3,470.0 453.3,418.3 500.0,400.0 C546.7,381.7 620.3,400.7 640.0,410.0 C659.7,419.3 623.7,449.3 618.0,456.0 Z" fill="url(#dY)" clip-path="url(#cU2)"/>
<path d="M509.2,444.8 C509.6,442.5 514.4,439.0 517.6,436.4 C520.8,433.8 524.8,431.4 528.4,429.2 C532.0,427.0 535.8,424.8 539.2,423.2 C542.6,421.6 544.8,420.4 548.8,419.6 C552.8,418.8 558.8,418.2 563.2,418.4 C567.6,418.6 571.4,419.6 575.2,420.8 C579.0,422.0 583.0,423.8 586.0,425.6 C589.0,427.4 591.9,429.4 593.2,431.6 C594.5,433.8 594.5,436.6 593.9,438.8 C593.3,441.0 591.7,442.8 589.6,444.8 C587.5,446.8 584.0,448.8 581.2,450.8 C578.4,452.8 575.4,455.0 572.8,456.8 C570.2,458.6 568.0,460.3 565.6,461.6 C563.2,462.9 562.0,464.4 558.4,464.5 C554.8,464.6 549.6,463.3 544.0,462.0 C538.4,460.7 529.6,458.8 524.8,456.8 C520.0,454.8 517.6,452.0 515.0,450.0 C512.4,448.0 508.8,447.1 509.2,444.8 Z" fill="#FFFF99"/>
<path d="M535.6,430.4 C535.5,428.2 536.2,426.1 538.0,424.4 C539.8,422.7 543.4,421.1 546.4,420.3 C549.4,419.5 553.0,419.1 556.0,419.6 C559.0,420.1 562.5,421.6 564.4,423.2 C566.3,424.8 566.9,427.0 567.3,429.2 C567.7,431.4 567.7,434.3 566.8,436.4 C565.9,438.5 564.2,440.6 562.0,441.9 C559.8,443.2 556.4,444.2 553.6,444.3 C550.8,444.4 547.7,443.5 545.2,442.4 C542.7,441.3 540.3,439.6 538.7,437.6 C537.1,435.6 535.7,432.6 535.6,430.4 Z" fill="#FFFF00"/>
<path d="M398.8,579.2 C399.3,575.2 400.2,571.2 402.4,567.2 C404.6,563.2 408.4,558.8 412.0,555.2 C415.6,551.6 420.3,548.5 424.0,545.6 C427.7,542.7 431.5,540.3 434.0,538.0 C436.5,535.7 437.7,534.0 439.0,532.0 C440.3,530.0 440.5,528.7 442.0,526.0 C443.5,523.3 445.7,518.3 448.0,516.0 C450.3,513.7 453.0,512.3 456.0,512.0 C459.0,511.7 462.7,512.7 466.0,514.0 C469.3,515.3 472.7,517.7 476.0,520.0 C479.3,522.3 483.0,525.0 486.0,528.0 C489.0,531.0 491.8,534.3 494.0,538.0 C496.2,541.7 497.9,546.0 499.0,550.0 C500.1,554.0 500.6,558.3 500.8,562.0 C501.0,565.7 500.9,568.3 500.3,572.0 C499.7,575.7 498.5,579.6 497.2,584.0 C495.9,588.4 494.4,593.6 492.4,598.4 C490.4,603.2 487.8,608.4 485.2,612.8 C482.6,617.2 479.8,621.0 476.8,624.8 C473.8,628.6 470.8,632.4 467.2,635.6 C463.6,638.8 459.2,642.1 455.2,644.0 C451.2,645.9 447.2,646.9 443.2,646.9 C439.2,646.9 435.0,646.1 431.2,644.0 C427.4,641.9 423.8,638.4 420.4,634.4 C417.0,630.4 413.6,624.8 410.8,620.0 C408.0,615.2 405.5,610.4 403.6,605.6 C401.7,600.8 400.3,595.6 399.5,591.2 C398.7,586.8 398.3,583.2 398.8,579.2 Z" fill="#FFFF99"/>
<path d="M427.6,572.0 C427.5,567.4 428.4,561.8 430.0,557.6 C431.6,553.4 434.2,549.4 437.2,546.8 C440.2,544.2 444.2,542.7 448.0,542.0 C451.8,541.3 456.2,541.7 460.0,542.7 C463.8,543.7 467.7,545.5 470.8,548.0 C473.9,550.5 476.8,554.0 478.7,557.6 C480.6,561.2 481.5,565.6 482.0,569.6 C482.5,573.6 482.5,577.6 481.6,581.6 C480.7,585.6 479.0,590.2 476.8,593.6 C474.6,597.0 471.6,600.0 468.4,602.0 C465.2,604.0 461.2,605.4 457.6,605.6 C454.0,605.8 450.2,604.8 446.8,603.2 C443.4,601.6 439.9,599.0 437.2,596.0 C434.5,593.0 432.3,589.2 430.7,585.2 C429.1,581.2 427.7,576.6 427.6,572.0 Z" fill="#FFFF00"/>
<path d="M795.6,338.8 C796.8,335.5 800.9,333.8 804.0,331.4 C807.1,328.9 810.6,326.6 814.5,324.1 C818.4,321.7 822.9,318.7 827.1,316.7 C831.3,314.7 835.2,313.0 839.7,311.9 C844.2,310.8 849.5,310.1 854.4,310.0 C859.3,309.9 864.5,310.4 869.1,311.5 C873.7,312.6 877.5,314.6 881.7,316.7 C885.9,318.8 890.3,321.5 894.3,324.1 C898.3,326.7 902.3,329.7 905.8,332.5 C909.3,335.3 912.1,338.1 915.3,340.9 C918.5,343.6 923.4,343.8 925.0,349.0 C926.6,354.2 927.0,364.9 925.0,372.0 C923.0,379.1 916.2,386.3 913.2,391.3 C910.2,396.3 909.4,398.0 906.9,401.8 C904.4,405.6 901.6,410.5 898.5,414.4 C895.4,418.2 892.2,421.7 888.0,424.9 C883.8,428.1 877.8,432.0 873.3,433.6 C868.8,435.2 864.9,435.1 860.7,434.6 C856.5,434.1 852.0,432.3 848.1,430.4 C844.2,428.5 840.8,426.2 837.6,423.1 C834.5,420.0 832.0,415.6 829.2,412.0 C826.4,408.4 823.6,405.2 820.8,401.8 C818.0,398.4 815.0,395.2 812.4,391.3 C809.8,387.4 807.1,382.9 805.0,378.7 C802.9,374.5 801.2,370.7 799.8,366.1 C798.4,361.6 797.3,355.9 796.6,351.4 C795.9,346.8 794.4,342.1 795.6,338.8 Z" fill="#FFFF99"/>
<path d="M837.0,351.4 C837.2,348.9 837.6,345.4 838.7,343.0 C839.9,340.6 841.8,338.0 843.9,336.7 C846.0,335.4 848.7,335.0 851.3,335.0 C853.9,335.0 857.2,335.5 859.7,336.7 C862.2,337.9 864.4,339.7 866.0,342.0 C867.6,344.3 868.9,347.6 869.5,350.4 C870.1,353.2 870.0,356.0 869.5,358.8 C869.0,361.6 868.1,364.9 866.6,367.2 C865.1,369.5 862.9,371.2 860.7,372.4 C858.5,373.6 855.9,374.7 853.4,374.5 C850.9,374.3 848.1,373.0 846.0,371.4 C843.9,369.8 842.2,367.3 840.8,365.0 C839.4,362.7 838.2,360.0 837.6,357.7 C837.0,355.4 836.8,353.8 837.0,351.4 Z" fill="#FFFF00"/>
<path d="M616.0,279.0 C616.2,274.2 615.8,270.0 617.6,267.0 C619.4,264.0 622.9,262.8 627.0,261.0 C631.1,259.2 636.8,257.6 642.0,256.4 C647.2,255.2 652.8,254.4 658.0,254.0 C663.2,253.6 668.5,253.8 673.0,254.0 C677.5,254.2 682.8,253.2 685.0,255.0 C687.2,256.8 685.2,262.2 686.0,265.0 C686.8,267.8 688.2,269.2 690.0,272.0 C691.8,274.8 695.2,279.0 697.0,282.0 C698.8,285.0 699.3,286.3 701.0,290.0 C702.7,293.7 705.0,299.0 707.0,304.0 C709.0,309.0 711.0,314.8 713.0,320.0 C715.0,325.2 717.0,330.7 719.0,335.0 C721.0,339.3 721.8,343.6 724.8,346.0 C727.8,348.4 733.2,348.0 736.8,349.3 C740.4,350.6 744.3,350.9 746.2,354.0 C748.1,357.1 747.2,363.0 748.3,368.2 C749.3,373.4 750.9,379.4 752.5,385.0 C754.1,390.6 756.2,396.6 757.8,401.8 C759.4,407.1 761.0,411.5 762.0,416.5 C763.0,421.5 764.1,426.8 764.1,432.0 C764.1,437.2 763.2,442.8 762.0,448.0 C760.8,453.2 759.0,458.0 757.0,463.0 C755.0,468.0 752.7,473.3 750.0,478.0 C747.3,482.7 743.8,487.6 741.0,491.0 C738.2,494.4 735.5,496.4 733.0,498.7 C730.5,501.0 727.7,502.6 726.0,505.0 C724.3,507.4 724.0,509.9 723.0,513.4 C722.0,516.9 720.5,522.1 720.0,526.0 C719.5,529.9 721.7,532.7 720.0,537.0 C718.3,541.3 714.0,547.2 710.0,551.6 C706.0,556.0 701.2,560.0 696.0,563.6 C690.8,567.2 684.7,570.3 679.0,573.0 C673.3,575.7 667.2,577.8 662.0,580.0 C656.8,582.2 652.3,584.0 648.0,586.0 C643.7,588.0 639.7,589.3 636.0,592.0 C632.3,594.7 628.8,598.3 626.0,602.0 C623.2,605.7 621.2,610.0 619.0,614.0 C616.8,618.0 615.3,622.0 613.0,626.0 C610.7,630.0 608.0,634.0 605.0,638.0 C602.0,642.0 598.7,646.7 595.0,650.0 C591.3,653.3 587.3,655.6 583.0,658.0 C578.7,660.4 573.8,662.9 569.0,664.4 C564.2,665.9 558.5,667.2 554.0,667.0 C549.5,666.8 545.3,665.2 542.0,663.2 C538.7,661.2 536.2,658.4 534.0,655.0 C531.8,651.6 530.2,647.3 529.0,643.0 C527.8,638.7 527.2,634.5 527.0,629.0 C526.8,623.5 527.2,616.3 527.5,610.0 C527.8,603.7 528.4,597.3 529.0,591.0 C529.6,584.7 530.5,578.3 531.0,572.0 C531.5,565.7 532.0,558.7 532.0,553.0 C532.0,547.3 531.2,542.5 531.0,538.0 C530.8,533.5 530.5,529.7 531.0,526.0 C531.5,522.3 532.2,519.0 534.0,516.0 C535.8,513.0 538.7,510.7 542.0,508.0 C545.3,505.3 550.0,502.7 554.0,500.0 C558.0,497.3 562.0,494.7 566.0,492.0 C570.0,489.3 574.0,486.7 578.0,484.0 C582.0,481.3 586.0,478.5 590.0,476.0 C594.0,473.5 598.0,471.3 602.0,469.0 C606.0,466.7 610.7,463.7 614.0,462.0 C617.3,460.3 618.3,458.9 622.0,459.0 C625.7,459.1 631.7,461.6 636.0,462.4 C640.3,463.2 644.4,463.8 648.0,463.6 C651.6,463.4 655.2,462.8 657.6,461.2 C660.0,459.6 661.4,456.8 662.4,454.0 C663.4,451.2 664.0,447.6 663.6,444.4 C663.2,441.2 661.6,437.5 660.0,434.8 C658.4,432.1 655.8,429.8 654.0,428.0 C652.2,426.2 651.2,427.1 649.2,424.0 C647.2,420.9 643.8,414.4 642.0,409.6 C640.2,404.8 639.4,400.0 638.4,395.2 C637.4,390.4 637.0,386.0 636.0,380.8 C635.0,375.6 634.0,368.8 632.4,364.0 C630.8,359.2 628.2,356.0 626.4,352.0 C624.6,348.0 623.3,344.2 621.6,340.0 C619.9,335.8 617.5,331.5 616.4,327.0 C615.3,322.5 615.3,316.2 615.2,313.0 C615.1,309.8 615.5,310.8 615.7,308.0 C615.9,305.2 616.4,300.8 616.4,296.0 C616.4,291.2 615.8,283.8 616.0,279.0 Z" fill="#99FF99"/>
<path d="M615.7,308.0 C615.9,305.2 615.9,300.0 616.4,296.0 C616.9,292.0 616.6,287.4 618.8,284.0 C621.0,280.6 625.4,277.8 629.6,275.6 C633.8,273.4 638.8,271.8 644.0,270.8 C649.2,269.8 655.2,269.4 660.8,269.6 C666.4,269.8 672.4,270.6 677.6,272.0 C682.8,273.4 688.4,275.2 692.0,278.0 C695.6,280.8 697.0,284.6 699.2,288.8 C701.4,293.0 703.2,298.0 705.2,303.2 C707.2,308.4 709.2,314.8 711.2,320.0 C713.2,325.2 715.2,330.4 717.2,334.4 C719.2,338.4 722.0,340.0 723.2,344.0 C724.4,348.0 724.5,353.5 724.4,358.4 C724.3,363.3 722.9,368.3 722.4,373.6 C721.9,378.9 721.8,385.2 721.2,390.4 C720.6,395.6 720.0,400.2 718.8,404.8 C717.6,409.4 716.2,414.2 714.0,418.0 C711.8,421.8 708.6,425.2 705.6,427.6 C702.6,430.0 699.6,431.7 696.0,432.4 C692.4,433.1 688.0,432.7 684.0,431.7 C680.0,430.7 676.0,428.7 672.0,426.4 C668.0,424.1 664.0,421.2 660.0,418.0 C656.0,414.8 651.4,411.0 648.0,407.2 C644.6,403.4 641.6,399.6 639.6,395.2 C637.6,390.8 637.2,386.0 636.0,380.8 C634.8,375.6 634.0,368.8 632.4,364.0 C630.8,359.2 628.2,356.0 626.4,352.0 C624.6,348.0 623.3,344.2 621.6,340.0 C619.9,335.8 617.5,331.5 616.4,327.0 C615.3,322.5 615.3,316.2 615.2,313.0 C615.1,309.8 615.5,310.8 615.7,308.0 Z" fill="#00FF00"/>
<path d="M615.4,312.8 C615.6,308.4 615.8,304.2 617.6,300.8 C619.4,297.4 622.8,294.6 626.0,292.4 C629.2,290.2 632.6,288.7 636.8,287.6 C641.0,286.5 646.4,285.8 651.2,285.7 C656.0,285.6 661.2,285.8 665.6,286.9 C670.0,288.0 674.0,290.1 677.6,292.4 C681.2,294.7 684.4,297.4 687.2,300.8 C690.0,304.2 692.5,308.4 694.4,312.8 C696.3,317.2 697.8,322.4 698.7,327.2 C699.6,332.0 699.9,336.8 699.9,341.6 C699.9,346.4 700.0,351.9 698.7,356.0 C697.5,360.1 694.9,363.1 692.4,366.4 C689.9,369.7 687.4,373.7 684.0,376.0 C680.6,378.3 676.4,379.7 672.0,380.3 C667.6,380.9 662.4,380.7 657.6,379.6 C652.8,378.5 647.4,376.2 643.2,373.6 C639.0,371.0 635.2,367.6 632.4,364.0 C629.6,360.4 628.3,355.7 626.4,352.0 C624.5,348.3 622.8,345.7 621.2,341.6 C619.6,337.5 617.6,332.0 616.6,327.2 C615.6,322.4 615.2,317.2 615.4,312.8 Z" fill="#99FFFF"/>
<path d="M632.0,324.8 C631.8,321.4 632.8,318.0 634.4,315.2 C636.0,312.4 638.8,309.7 641.6,308.0 C644.4,306.3 648.0,305.3 651.2,304.9 C654.4,304.5 657.6,304.7 660.8,305.6 C664.0,306.5 667.8,308.2 670.4,310.4 C673.0,312.6 675.1,315.6 676.4,318.8 C677.7,322.0 678.0,326.0 678.0,329.6 C678.0,333.2 677.7,337.2 676.4,340.4 C675.1,343.6 673.0,346.8 670.4,348.8 C667.8,350.8 664.0,352.0 660.8,352.4 C657.6,352.8 654.2,352.4 651.2,351.2 C648.2,350.0 645.4,347.8 642.8,345.2 C640.2,342.6 637.4,339.0 635.6,335.6 C633.8,332.2 632.2,328.2 632.0,324.8 Z" fill="#80CCFF"/>
<path d="M560.4,545.2 C560.4,540.8 560.4,537.2 561.6,533.2 C562.8,529.2 564.8,525.2 567.6,521.2 C570.4,517.2 574.2,513.0 578.4,509.2 C582.6,505.4 587.6,501.8 592.8,498.4 C598.0,495.0 604.0,491.6 609.6,488.8 C615.2,486.0 620.8,483.8 626.4,481.6 C632.0,479.4 638.0,477.0 643.2,475.6 C648.4,474.2 653.2,473.2 657.6,473.2 C662.0,473.2 666.4,474.0 669.6,475.6 C672.8,477.2 675.1,479.6 676.8,482.8 C678.5,486.0 679.3,490.4 679.7,494.8 C680.1,499.2 679.9,504.0 679.2,509.2 C678.5,514.4 677.2,520.8 675.6,526.0 C674.0,531.2 672.2,535.6 669.6,540.4 C667.0,545.2 663.6,550.4 660.0,554.8 C656.4,559.2 652.4,563.0 648.0,566.8 C643.6,570.6 638.8,574.4 633.6,577.6 C628.4,580.8 622.4,583.6 616.8,586.0 C611.2,588.4 605.2,590.8 600.0,592.0 C594.8,593.2 590.0,594.2 585.6,593.2 C581.2,592.2 577.0,589.2 573.6,586.0 C570.2,582.8 567.2,578.4 565.2,574.0 C563.2,569.6 562.4,564.4 561.6,559.6 C560.8,554.8 560.4,549.6 560.4,545.2 Z" fill="#00FF00"/>
</g>
<g fill="none" stroke="#000" stroke-width="1" stroke-dasharray="3.5 3.5" clip-path="url(#clip)">
<ellipse cx="478.7" cy="325.3" rx="79" ry="79.6"/>
<ellipse cx="478.7" cy="325.3" rx="158.6" ry="159.9"/>
<ellipse cx="478.7" cy="325.3" rx="246.3" ry="248.6"/>
<ellipse cx="478.7" cy="325.3" rx="343.4" ry="346.5"/>
<ellipse cx="478.7" cy="325.3" rx="457" ry="461"/>
<ellipse cx="478.7" cy="325.3" rx="590" ry="596"/>
<line x1="557.7" y1="325.3" x2="1178.7" y2="325.3"/>
<line x1="547.1" y1="365.1" x2="1084.9" y2="678.1"/>
<line x1="518.2" y1="394.2" x2="828.7" y2="936.4"/>
<line x1="478.7" y1="404.9" x2="478.7" y2="1030.9"/>
<line x1="439.2" y1="394.2" x2="128.7" y2="936.4"/>
<line x1="410.3" y1="365.1" x2="-127.5" y2="678.1"/>
<line x1="399.7" y1="325.3" x2="-221.3" y2="325.3"/>
<line x1="410.3" y1="285.5" x2="-127.5" y2="-27.5"/>
<line x1="439.2" y1="256.4" x2="128.7" y2="-285.8"/>
<line x1="478.7" y1="245.7" x2="478.7" y2="-380.3"/>
<line x1="518.2" y1="256.4" x2="828.7" y2="-285.8"/>
<line x1="547.1" y1="285.5" x2="1084.9" y2="-27.5"/>
</g>
<!--COAST-->
<g fill="none" stroke="#000" stroke-width="1" stroke-linejoin="round" clip-path="url(#clip)">
<path d="M51.0,237.0 56.0,228.5 61.0,222.2 69.8,216.0 78.5,211.5 83.5,214.8 88.5,216.0 96.0,214.0 106.0,209.8 116.0,206.0 126.0,202.2 132.2,199.8 138.5,196.5 146.0,193.5 156.0,191.0 163.5,190.5 169.8,191.0 173.5,188.0 177.2,184.5 173.5,182.8 166.0,181.0 158.5,182.2 151.0,184.0 143.5,185.5 133.5,187.2 123.5,188.5 113.5,191.0 109.8,193.0 108.5,189.8 108.0,188.0 113.5,186.0 121.0,183.0 126.5,179.0 129.8,181.8 136.0,182.2 143.5,178.5 148.5,174.0 153.0,172.2 153.5,176.0 157.2,177.2 163.5,175.5 168.5,173.5 176.0,174.0 186.0,174.2 193.5,175.0 198.5,173.5 203.5,169.8 208.5,164.0 212.2,165.2 218.5,164.8 222.2,164.0 227.2,166.0 232.2,166.8 236.0,165.2 243.5,165.2 251.0,166.5 256.0,171.0 261.0,175.5 266.0,179.2 271.0,183.5 276.0,187.2 282.2,191.0 288.5,193.0 296.0,195.5 M296.0,199.8 306.0,199.0 313.5,198.0 321.0,197.2 328.5,198.5 333.5,201.0 339.8,199.8 346.0,202.2 351.0,199.8 356.0,203.5 361.0,202.2 366.0,199.8 371.0,199.8 376.0,198.5 381.0,196.0 388.5,193.0 394.8,192.2 397.2,188.5 396.0,183.5 399.8,178.5 401.0,181.0 403.5,173.5 406.0,166.0 408.5,158.5 412.2,152.2 418.5,146.0 423.5,141.0 428.0,138.5 429.0,140.2 424.8,143.5 420.5,148.5 417.2,153.5 414.8,158.5 413.5,163.5 414.8,167.2 418.5,166.0 423.5,165.2 427.2,167.2 428.5,169.8 432.2,171.0 436.0,169.8 439.8,172.2 442.2,176.0 441.0,181.0 439.8,186.0 436.0,187.2 433.5,192.2 436.0,196.0 441.0,193.5 446.0,194.8 449.8,198.5 446.0,203.5 441.0,206.0 443.5,209.8 448.5,212.2 451.0,216.0 448.5,221.0 446.0,227.2 442.2,231.0 436.0,233.5 428.5,234.8 423.5,237.0 M296.0,194.8 303.5,193.0 311.0,191.8 312.5,193.5 306.0,196.8 298.5,198.5 296.0,199.0 M323.5,188.5 331.0,188.5 338.5,192.2 333.5,194.8 327.2,191.0Z M338.5,198.0 343.5,199.8 342.2,202.2 347.2,201.0 349.8,197.2 352.2,203.5 357.2,201.0 359.8,204.8 M398.5,164.8 403.5,163.5 404.8,167.2 401.0,172.2 398.5,171.0Z M432.2,132.2 435.5,130.0 437.2,131.5 434.0,134.0Z M437.2,129.8 441.5,126.0 M458.5,120.5 459.8,118.5 M465.5,116.8 468.0,115.5 M471.0,115.5 473.0,114.5 M501.5,123.0 504.8,124.5 M522.2,138.5 524.0,141.0 M438.5,168.5 443.5,167.2 444.8,169.0 439.8,170.2Z M452.2,184.0 458.5,183.5 458.5,186.0 453.5,185.5Z M546.0,139.8 539.8,142.2 536.0,146.0 531.0,149.8 529.8,156.0 527.2,162.2 523.5,166.0 519.8,168.5 514.8,167.2 509.8,168.5 506.0,166.0 501.0,169.8 493.5,173.5 486.0,176.0 482.2,177.2 479.8,179.8 482.2,186.0 483.5,189.8 479.8,193.5 477.2,196.0 474.8,193.0 469.8,192.2 466.0,188.5 461.0,191.0 459.8,194.8 456.0,198.5 459.8,201.0 466.0,203.5 471.0,207.2 476.0,209.8 481.0,213.5 486.0,216.0 493.5,218.5 497.2,214.8 499.8,217.2 498.5,219.8 506.0,221.0 513.5,223.5 516.0,228.5 521.0,232.2 524.8,237.0 M546.0,164.8 539.8,166.0 533.5,169.8 528.5,172.2 522.2,174.8 519.8,178.5 517.2,182.2 521.0,181.0 524.8,178.5 531.0,177.2 529.8,182.2 536.0,183.5 542.2,181.0 546.0,179.8 M474.8,224.8 478.5,223.0 480.5,226.0 477.2,228.5Z M522.2,163.5 527.2,162.2 524.8,165.2Z M546.0,137.2 551.0,133.5 557.2,129.8 562.2,128.5 561.0,133.5 558.5,141.0 557.2,151.0 554.8,158.5 549.8,163.5 546.0,166.0 M566.0,126.0 569.0,126.0 569.0,128.5 566.0,128.5Z M546.0,175.5 551.0,174.8 557.2,177.2 558.5,181.0 556.0,183.5 561.0,184.8 567.2,188.5 573.5,192.2 578.5,193.5 588.5,192.2 598.5,191.0 611.0,189.8 612.2,186.0 608.5,182.2 604.8,178.5 603.0,173.5 602.2,166.0 606.0,161.0 613.5,154.8 621.0,150.5 631.0,147.2 638.5,144.0 646.0,143.5 653.5,143.0 659.8,141.5 666.0,143.5 669.8,147.2 671.0,150.5 678.5,151.0 683.5,151.5 687.2,148.5 693.5,150.5 701.0,152.2 M594.8,169.8 597.2,166.0 601.0,158.5 606.0,149.8 608.5,143.5 611.5,144.0 609.8,149.8 613.5,147.2 618.5,142.2 620.5,136.0 621.0,131.0 624.0,132.2 626.0,134.8 622.2,138.5 621.0,143.5 617.2,147.2 612.2,153.5 607.2,159.8 602.2,166.0 597.2,170.5Z M623.5,112.2 627.2,109.8 632.2,112.2 636.0,111.0 639.8,114.8 642.2,118.5 639.8,121.0 637.2,123.5 633.5,124.8 631.0,128.5 628.5,129.8 628.5,124.8 629.8,119.8 627.2,117.2 624.0,116.0Z M597.2,114.0 602.2,113.0 M607.2,114.8 613.5,113.5 M624.8,111.5 629.0,111.5 629.0,116.0 624.8,116.0Z M647.2,113.5 651.0,106.0 654.8,101.0 659.8,97.2 663.5,93.5 666.0,89.8 671.0,88.5 676.0,86.0 681.0,87.2 684.8,89.8 688.5,92.2 692.2,96.0 696.0,94.8 701.0,93.0 703.0,95.5 699.8,98.5 697.2,101.0 701.0,103.5 706.0,106.0 711.0,108.5 716.0,109.8 718.5,106.0 722.2,103.5 727.2,102.2 732.2,103.5 734.0,106.0 732.2,109.0 728.5,110.5 727.2,114.8 724.8,117.2 721.0,114.8 717.2,116.0 712.2,114.8 707.2,114.0 702.2,112.2 697.2,108.5 693.5,104.8 689.8,102.2 684.8,104.8 681.0,106.0 677.2,103.5 672.2,102.2 666.0,103.5 661.0,106.0 656.0,109.8 652.2,113.5 648.5,116.0Z M658.5,81.0 663.5,81.0 663.5,86.0 658.5,86.0Z M669.8,86.0 674.8,86.0 674.8,89.8 669.8,89.8Z M729.8,103.0 733.5,103.0 733.5,107.2 729.8,107.2Z M698.5,99.0 703.5,101.5 702.2,104.8 707.2,103.5 711.0,100.5 714.8,102.2 712.2,106.0 718.5,104.8 721.0,101.0 724.8,98.5 722.2,97.2 M639.8,119.8 644.8,121.5 648.5,117.2 646.0,112.2 M604.8,182.2 607.2,184.8 610.5,181.0 611.5,178.0 M631.0,216.0 634.8,211.5 636.5,216.0Z M637.2,214.0 640.5,213.5 641.0,216.5 638.0,217.0Z M751.5,95.5 754.8,96.0 M767.2,95.5 772.2,94.0 M746.0,171.0 749.8,167.2 753.5,161.0 758.5,154.8 761.0,149.8 763.5,147.2 766.0,151.0 768.5,144.8 769.8,138.5 773.5,141.0 777.2,138.5 782.2,136.5 786.0,138.5 792.2,139.8 797.2,141.0 799.8,138.0 804.8,138.5 811.0,139.8 818.5,142.2 826.0,146.0 833.5,151.0 838.5,156.0 841.0,161.0 844.8,163.5 846.0,167.2 851.0,169.8 856.0,174.8 859.8,179.8 863.5,181.0 867.2,178.5 868.5,182.2 864.8,184.8 861.0,187.2 860.5,192.2 862.2,197.2 866.0,201.0 871.0,204.8 876.0,207.2 882.2,209.8 888.5,208.5 893.5,203.5 897.2,197.2 901.0,189.8 903.5,182.2 907.2,177.2 912.2,173.5 918.5,169.8 M799.8,123.5 802.2,120.5 808.5,118.5 816.0,117.2 822.2,116.5 823.5,118.5 821.0,122.2 817.2,126.0 811.0,127.2 804.8,126.5Z M867.2,174.8 871.0,172.2 877.2,173.5 882.2,176.0 885.5,179.8 884.8,183.5 881.0,187.2 877.2,188.0 872.2,184.8 868.5,179.8Z M841.0,93.5 844.8,89.8 849.8,86.0 856.0,84.0 862.2,85.5 868.5,86.0 871.0,81.0 869.8,73.5 867.2,66.0 868.5,59.8 872.2,57.2 873.5,63.5 872.2,69.8 876.0,67.2 877.2,72.2 874.8,76.0 878.5,77.2 881.0,81.0 879.8,84.8 876.0,86.0 877.2,89.8 874.8,93.5 871.0,92.2 868.5,96.0 866.0,99.8 863.5,97.2 858.5,98.5 853.5,101.0 847.2,103.0 844.8,98.5Z M881.0,78.5 883.5,73.5 887.2,71.5 889.8,73.5 887.2,78.5 884.8,82.2 882.2,81.0Z M887.2,57.2 891.0,58.5 896.0,59.8 899.0,58.5 896.0,62.2 891.0,65.5 888.5,62.2Z M903.5,81.0 909.8,76.0 918.5,81.0Z M46.0,339.5 48.5,340.8 56.0,342.0 63.5,344.5 69.8,348.2 72.2,344.5 73.5,337.0 71.0,329.5 69.8,323.2 63.5,320.8 56.0,317.0 51.0,312.0 49.8,302.0 48.5,290.8 51.0,284.5 56.0,278.2 63.5,274.5 71.0,272.0 78.5,270.8 83.5,269.0 89.8,270.8 96.0,272.0 103.5,274.5 111.0,276.5 118.5,278.2 123.5,282.0 127.2,287.0 129.8,293.2 132.2,295.8 134.0,299.5 133.5,305.8 132.2,310.8 134.8,313.2 133.5,317.0 131.0,320.8 129.8,324.5 132.2,328.2 136.0,325.8 137.2,332.0 138.5,339.5 139.8,347.0 137.2,353.2 134.8,357.0 133.5,362.0 131.0,367.0 126.0,369.5 119.8,372.0 113.5,375.8 108.5,379.5 104.8,383.2 106.0,387.0 109.8,389.5 116.0,388.2 123.5,385.8 131.0,382.0 137.2,378.2 142.2,375.8 148.5,375.8 154.8,378.2 159.8,382.0 164.8,385.8 169.8,389.5 173.5,393.2 177.2,397.0 181.0,400.8 183.5,397.0 187.2,398.2 192.2,397.0 196.0,393.2 199.8,394.5 204.8,393.2 206.0,397.0 202.2,399.5 207.2,402.0 213.5,401.5 217.2,404.5 221.0,409.5 224.8,413.2 227.2,417.0 M77.2,362.0 82.2,367.0 86.0,374.5 88.5,384.5 88.5,394.5 86.0,404.5 83.5,418.0 M76.0,418.0 78.0,409.5 81.0,399.5 83.5,390.8 83.5,382.0 81.0,373.2 78.5,367.0 77.2,362.0 M76.0,374.5 78.5,373.2 78.0,377.0Z M99.8,380.8 102.2,383.2 M102.2,403.2 108.5,402.0 106.0,407.0 99.8,409.5Z M117.2,397.0 121.0,402.0 119.8,407.0 116.0,409.5 M56.0,413.2 58.5,415.8 M266.0,292.0 271.0,290.0 276.0,290.8 281.0,287.0 284.8,285.8 285.5,289.5 282.2,292.0 286.0,293.2 284.8,298.2 279.8,299.5 274.8,298.2 271.0,302.0 266.0,299.5 269.8,297.0 266.0,295.0Z M254.8,403.2 261.0,404.5 268.5,407.0 276.0,410.8 281.0,414.5 283.5,418.0 M131.0,323.2 133.5,325.0 132.2,327.5 129.8,326.5Z M134.8,357.0 138.5,356.5 141.0,360.8 137.2,361.5 M211.5,336.6 214.6,334.8 220.8,334.1 227.0,334.5 228.9,331.7 231.3,332.3 232.6,334.8 235.7,336.0 236.9,339.7 238.2,344.7 237.5,346.5 234.4,344.7 232.0,342.2 228.9,341.0 224.5,341.0 220.2,342.2 216.5,342.2 213.4,339.7Z M242.5,316.8 245.6,319.9 248.1,323.6 250.6,327.9 254.3,330.4 256.5,332.9 254.9,336.0 255.5,339.7 251.8,341.0 250.6,344.7 246.8,346.5 243.7,347.8 242.5,343.4 241.3,339.7 241.9,336.0 243.7,332.9 246.2,334.1 245.6,331.0 243.1,329.2 241.3,325.5 242.5,321.1Z M213.4,355.8 215.2,355.2 217.1,359.6 219.6,363.9 222.0,368.2 223.9,372.6 223.5,376.3 220.8,373.8 217.7,369.5 214.6,364.5 212.7,360.2Z M225.8,352.7 228.9,354.0 233.2,354.6 235.7,351.5 238.8,349.0 240.6,351.5 241.3,355.8 239.4,359.6 236.9,357.1 233.2,358.3 228.2,359.6 223.3,360.2 222.7,362.0 227.0,362.0 232.0,362.7 235.7,362.0 238.8,360.8 241.3,361.4 240.6,364.5 238.8,368.2 235.7,370.1 233.2,368.2 233.8,364.5 232.0,362.7 M225.8,372.6 228.9,370.7 231.3,372.6 230.1,375.1 233.2,374.4 236.9,373.8 238.2,376.9 236.9,379.4 238.8,381.3 237.5,383.7 234.4,383.1 232.6,385.6 230.7,387.5 228.9,384.4 227.6,380.6 226.4,376.9Z M320.0,318.6 318.1,318.0 315.7,319.3 313.2,318.6 315.0,317.4 316.9,315.5 318.1,313.1 315.7,311.8 312.6,311.8 310.7,313.7 311.3,316.8 307.6,316.4 303.3,317.4 302.6,319.9 302.0,324.8 300.2,329.8 297.1,334.8 295.2,341.0 294.0,347.2 292.1,351.5 289.0,350.9 285.3,352.1 280.3,352.7 276.6,356.5 273.5,359.6 271.6,362.7 274.1,364.5 277.8,366.4 282.8,365.1 286.5,363.3 289.6,360.8 292.1,360.2 295.2,363.3 298.9,365.8 302.6,367.0 306.4,365.8 310.1,363.3 313.2,360.8 315.7,358.3 320.0,358.9 M298.9,356.5 302.6,357.7 300.8,360.2Z M280.9,357.1 280.9,354.6 282.8,354.6 M338.6,255.8 341.8,255.2 342.4,258.9 344.3,261.4 346.2,262.1 344.3,265.2 343.0,268.3 344.3,272.7 343.0,275.9 341.8,277.1 341.1,273.4 341.8,269.0 339.9,267.1 339.3,263.3 338.6,259.6Z M321.7,265.2 324.2,264.0 325.1,267.7 326.1,270.9 324.8,274.6 323.0,275.2 322.6,271.5 323.0,268.3Z M303.5,283.4 306.7,286.5 309.8,287.2 312.3,289.0 310.4,290.3 307.9,289.0 305.4,286.5Z M364.3,255.8 367.5,252.0 368.7,251.4 370.0,255.8 371.2,258.3 373.1,254.6 375.0,251.4 375.6,255.8 375.0,260.8 374.4,264.0 371.2,262.7 370.0,265.2 368.1,265.8 366.2,264.0 365.6,260.8 367.5,259.6 365.0,257.7Z M421.0,238.3 416.4,240.1 411.3,240.8 406.3,242.0 402.6,242.6 401.9,245.8 400.1,248.3 400.7,252.0 398.8,255.8 396.3,257.1 397.6,260.2 393.8,261.4 390.7,262.1 388.8,264.0 389.4,267.1 386.3,270.2 383.8,271.5 380.0,273.4 377.5,275.9 373.7,277.7 372.5,274.6 371.2,278.4 370.0,282.1 368.7,285.3 366.8,287.2 368.7,289.0 371.2,287.8 373.1,284.6 374.4,287.2 373.7,290.9 375.0,294.7 372.5,295.9 369.3,295.9 366.8,298.4 364.3,300.9 362.4,304.1 363.1,307.2 365.6,308.5 369.3,307.2 371.9,309.1 373.7,311.0 371.2,312.2 366.2,312.2 361.8,311.6 360.6,312.9 363.7,314.7 367.5,316.0 371.2,315.4 375.0,313.5 378.7,314.7 382.5,316.6 386.3,317.2 389.4,319.1 391.9,322.3 393.8,324.8 391.3,326.0 387.5,323.5 383.8,321.0 380.0,319.7 376.2,319.7 372.5,321.0 369.3,323.5 367.5,326.0 370.0,328.0 M374.4,287.2 377.5,284.6 381.3,283.4 383.8,279.6 385.0,275.9 383.8,282.8 383.8,285.3 385.6,282.1 387.5,278.4 391.3,275.9 393.8,274.6 396.3,272.7 395.0,270.9 398.8,270.2 402.6,270.2 404.5,272.7 407.6,275.2 410.7,277.1 409.5,280.9 406.3,283.4 402.6,285.9 400.1,287.8 396.3,288.4 394.4,290.9 393.2,294.0 392.5,297.2 395.0,299.7 396.3,302.2 393.8,302.8 390.0,300.9 386.3,299.7 382.5,299.1 380.0,300.9 377.5,302.8 375.6,304.7 373.1,302.8 371.2,299.7 372.5,295.9 M396.3,272.7 398.8,278.4 400.1,283.4 400.1,287.8 M382.5,308.5 386.3,306.0 390.0,304.7 392.5,305.3 395.7,307.8 396.9,311.0 395.0,313.5 391.3,314.1 387.5,314.1 383.8,312.2Z M388.8,319.1 392.5,317.2 395.7,318.5 396.3,321.6 395.0,324.8 391.9,322.3 M301.6,328.0 302.3,322.3 302.9,317.9 306.0,316.0 309.8,315.4 311.7,312.2 316.1,311.6 319.8,312.2 323.0,312.9 327.3,314.7 331.1,317.2 334.9,319.7 338.0,322.3 339.9,324.8 342.4,328.0 M416.1,284.6 419.8,284.4 420.4,288.4 421.7,292.8 419.2,294.7 416.7,294.0 414.8,290.9Z M417.9,298.4 421.1,297.2 423.6,299.7 423.0,304.1 420.4,305.3 418.6,302.2Z M403.5,292.2 407.3,290.9 411.0,289.7 414.2,292.2 416.7,294.7 413.6,295.9 409.8,297.2 406.7,295.9 407.9,299.1 411.7,299.7 412.9,302.2 409.8,303.4 406.0,302.8 403.5,300.9Z M403.5,304.7 407.3,306.6 411.0,306.0 410.4,309.1 406.7,309.7 403.5,308.5Z M414.8,307.8 419.8,309.7 424.2,308.5 425.5,310.3 423.0,312.9 419.8,314.1 417.3,312.2Z M402.3,312.2 406.0,310.3 409.8,311.6 410.4,314.7 407.9,317.2 404.1,317.2 402.3,314.7Z M416.1,314.7 419.8,316.0 418.6,318.5 414.8,319.7 413.6,322.3 412.3,318.5Z M398.5,317.2 402.3,318.5 403.5,321.0 401.0,323.5 397.9,322.3Z M406.0,319.7 409.8,318.5 411.0,322.3 408.5,326.0 405.4,324.8Z M416.7,328.0 417.3,322.3 422.3,321.6 427.3,320.4 431.1,322.3 434.9,323.5 438.0,326.0 438.6,328.0 M425.5,316.6 428.6,317.2 M396.0,280.9 399.1,280.3 399.8,284.6 397.3,287.2 396.0,286.5 M516.4,255.8 518.2,254.6 520.1,255.8 519.5,258.9 521.0,262.1 M296.0,364.4 299.8,365.6 303.5,366.2 308.5,364.4 312.3,361.9 314.8,359.3 318.6,358.7 322.3,360.0 326.1,358.7 329.9,358.1 333.0,356.2 334.9,355.0 336.1,358.1 336.7,362.5 338.0,366.2 336.7,370.0 334.2,373.1 333.6,376.9 333.0,380.0 329.9,381.3 327.3,383.2 324.2,385.7 322.3,388.8 323.6,391.3 326.7,392.6 329.9,393.2 331.1,390.1 333.0,390.7 336.1,392.6 334.9,395.7 333.0,398.2 331.1,401.3 328.6,404.5 326.7,407.6 324.8,410.1 323.0,410.7 320.4,412.0 319.2,414.5 317.9,417.0 316.1,419.0 M337.4,336.1 339.3,331.8 341.1,333.0 345.5,333.0 349.9,331.8 353.0,332.4 354.9,333.6 354.3,336.1 351.2,337.4 349.3,339.9 346.8,343.0 344.3,346.2 341.8,348.7 340.5,346.8 341.8,343.0 341.8,339.9 339.3,338.7Z M333.0,341.8 334.9,343.0 335.5,345.6 333.6,344.9Z M329.2,351.8 332.4,350.6 334.2,351.2 333.6,353.7 331.1,353.1Z M378.7,328.0 376.2,331.1 374.4,334.3 374.4,338.0 374.4,341.8 375.0,345.6 377.5,346.8 376.2,349.9 374.4,353.1 371.2,356.8 368.1,360.0 364.3,361.2 360.6,360.0 358.1,357.5 356.2,360.6 353.7,359.3 353.0,356.2 351.2,353.1 347.4,352.4 345.5,355.0 346.8,358.7 348.0,362.5 347.4,366.9 345.5,370.0 344.3,373.8 343.6,377.5 341.8,380.7 341.8,384.4 343.0,386.3 344.9,385.0 346.2,380.7 347.4,377.5 349.3,375.6 349.9,379.4 348.7,383.8 349.9,386.9 352.4,386.3 354.9,383.2 356.8,379.4 358.7,376.3 361.2,374.4 364.3,373.8 364.3,376.9 362.4,379.4 360.6,381.9 361.2,384.4 364.3,385.0 368.1,385.0 371.2,383.8 372.5,379.4 374.4,375.6 373.7,371.9 373.1,368.7 375.0,366.9 378.7,365.6 382.5,364.4 384.4,360.6 385.6,356.8 386.3,353.1 388.8,350.6 390.0,346.8 389.4,343.0 386.9,340.5 389.4,339.3 393.8,338.7 395.7,341.2 395.0,344.9 391.9,346.2 390.7,343.7 M353.7,337.4 356.2,340.5 359.9,343.0 363.7,341.8 366.8,339.9 370.0,340.5 372.5,338.7 374.4,335.5 M359.9,330.5 363.7,331.8 367.5,331.1 371.2,329.3 373.7,328.0 M361.2,353.1 364.3,351.2 367.5,352.4 368.7,354.3 366.2,356.2 363.1,355.6Z M369.3,352.4 372.5,353.1 M382.5,333.0 386.3,331.1 391.3,330.5 394.4,331.8 395.0,334.9 393.8,336.8 M397.6,328.0 398.2,333.0 399.4,337.4 402.6,338.7 404.5,335.5 403.8,331.1 405.1,328.0 M407.6,328.0 408.8,333.0 411.3,336.1 415.1,338.0 418.9,338.7 421.0,339.9 M421.0,343.7 418.2,345.6 415.1,348.1 412.6,351.2 412.0,355.0 413.9,358.1 415.1,361.9 414.5,365.6 412.6,368.7 410.7,371.3 408.2,373.8 406.3,376.3 402.6,378.2 399.4,379.4 398.2,381.9 400.7,382.5 400.1,385.7 399.4,389.4 398.2,388.2 397.6,385.0 394.4,385.7 391.9,387.6 391.3,390.1 392.5,391.9 395.0,393.2 396.9,391.9 395.0,394.4 391.9,395.7 388.8,394.4 385.0,395.1 381.3,397.6 378.7,399.5 376.2,402.0 376.2,404.5 374.4,407.0 371.9,409.5 370.6,412.6 369.3,415.8 368.1,419.0 M421.1,340.5 426.1,340.5 431.1,343.0 436.1,344.3 441.1,344.3 444.3,344.3 444.6,339.9 444.3,335.5 443.0,331.8 440.5,328.0 M414.8,328.0 417.3,329.9 422.3,329.9 427.3,329.3 430.5,331.1 431.7,334.9 429.9,331.8 429.2,328.0 M421.1,344.0 423.0,344.3 426.1,346.8 429.2,348.1 431.7,344.9 434.9,344.3 438.6,346.8 442.4,345.6 445.5,347.4 447.4,350.6 449.9,351.8 453.0,350.6 456.2,350.6 459.3,351.8 462.4,353.7 464.3,356.2 464.3,360.6 461.8,361.9 459.3,361.2 461.2,364.4 463.7,365.0 461.8,366.9 458.7,368.1 461.2,366.2 465.6,365.6 468.7,366.9 469.7,369.1 467.5,371.9 465.0,374.4 462.4,376.9 459.9,379.4 458.1,383.2 457.4,386.9 457.7,390.7 455.6,391.9 453.0,390.7 452.4,392.6 454.9,393.2 453.7,396.3 453.0,399.5 454.3,400.1 451.8,402.0 449.9,403.9 448.0,406.4 445.5,407.6 443.6,410.1 442.4,413.3 441.8,415.8 441.1,419.0 M495.0,374.4 496.3,376.3 499.4,377.5 501.9,376.3 502.8,373.8 501.3,371.6 497.6,371.9 494.4,373.8 492.5,376.9 488.8,378.8 490.7,381.9 493.2,385.7 495.7,389.4 498.2,392.6 499.4,393.2 498.8,388.2 498.8,384.4 499.4,381.3 501.3,380.7 503.8,383.2 505.7,383.8 505.7,386.9 502.6,387.6 501.9,385.0 500.7,382.5 M513.9,359.3 516.4,357.5 518.2,358.1 517.0,360.6 514.5,361.2Z M515.7,349.3 518.2,347.4 521.0,346.8 M516.4,353.1 519.5,351.8 521.0,353.1 M518.2,355.0 521.0,355.6 M433.6,419.0 436.1,415.8 438.6,415.1 438.0,419.0 M521.0,244.5 526.0,243.2 529.8,248.2 534.8,253.2 539.8,250.8 544.8,254.5 549.8,257.0 553.5,258.2 552.2,263.2 548.5,267.0 549.8,272.0 553.5,277.0 554.8,283.2 556.0,289.5 558.5,293.2 562.2,297.0 558.5,298.2 553.5,294.5 548.5,294.5 544.8,297.0 543.5,303.2 546.0,308.2 549.8,313.2 553.5,319.5 557.2,325.8 561.0,330.8 563.5,335.8 566.0,339.5 571.0,337.0 573.5,339.5 571.0,344.5 574.8,347.0 571.0,349.5 567.2,348.2 M523.5,262.0 527.2,260.8 531.0,265.8 528.5,269.5 524.8,267.0Z M528.5,254.5 532.2,255.8 M524.8,319.5 531.0,313.2 536.0,309.5 539.8,310.8 537.2,315.8 533.5,319.5 529.8,323.2 526.0,323.2Z M542.2,352.0 544.8,350.8 546.0,357.0 547.2,364.5 549.8,372.0 554.8,378.2 559.8,380.8 564.8,379.5 567.2,377.0 566.0,380.8 561.0,384.5 556.0,384.5 551.0,380.8 547.2,374.5 544.8,367.0 543.0,359.5Z M561.0,354.5 567.2,352.5 573.5,353.2 581.0,354.5 588.5,354.5 593.5,357.0 596.0,362.0 597.2,365.8 594.8,365.8 592.2,360.8 586.0,358.2 578.5,357.0 571.0,357.0 566.0,356.5 569.8,360.8 574.8,364.5 581.0,367.0 584.8,367.0 579.8,370.8 574.8,374.5 571.0,378.2 574.8,379.5 576.0,383.2 572.2,387.0 569.8,392.0 568.5,398.2 566.0,402.0 568.5,407.0 564.8,412.0 M558.5,397.0 561.0,394.5 563.5,397.0 561.0,399.5Z M556.0,407.0 561.0,405.8 566.0,409.5 M521.0,415.8 526.0,413.2 532.2,415.8 536.0,418.0 M521.0,345.8 522.2,349.5 521.0,353.2 M651.0,262.0 657.2,260.0 664.8,260.0 671.0,263.2 676.0,267.0 679.8,270.8 681.0,274.5 678.0,272.0 673.5,268.2 668.5,265.8 662.2,264.0 656.0,263.2Z M709.8,369.5 712.2,372.0 711.0,378.2 709.0,384.5 710.5,389.5 714.8,393.2 716.0,395.8 712.2,395.0 708.0,391.5 706.5,385.8 708.0,378.2Z M517.2,255.8 519.8,254.5 521.0,258.2 523.5,262.0 527.2,264.5 531.0,267.0 528.5,270.0 524.8,268.2 522.2,264.5 519.8,260.8Z M531.0,254.5 533.0,253.2 533.5,258.2 531.0,259.5Z M524.8,320.8 528.5,317.0 532.2,313.2 534.8,309.5 538.5,310.8 537.2,314.5 539.8,317.0 534.8,319.5 531.0,322.0 527.2,323.2Z M918.5,289.5 911.0,290.8 904.8,293.2 902.2,297.0 897.2,298.2 893.5,302.0 889.8,305.8 884.8,309.5 878.5,311.5 874.8,314.5 877.2,318.2 881.0,322.0 883.0,325.8 882.2,332.0 883.5,337.0 881.0,338.2 882.2,343.2 886.0,347.0 891.0,348.2 894.8,352.0 897.2,359.5 902.2,364.5 906.0,369.5 909.8,375.8 914.8,382.0 918.5,385.8 M916.8,268.2 918.5,270.8 M71.0,418.0 72.2,425.5 74.8,433.0 78.0,439.2 81.0,433.0 83.0,425.5 83.5,418.0 M54.8,418.0 55.5,424.2 58.0,429.2 60.5,425.5 59.8,418.0 M63.5,443.0 67.2,441.8 68.5,448.0 71.0,453.0 74.8,450.5 76.0,446.0 79.8,446.8 80.5,453.0 81.5,459.2 84.0,465.5 84.8,471.8 83.5,475.5 82.2,480.5 79.8,485.5 76.5,483.0 78.0,478.0 74.8,473.0 72.2,468.0 69.8,464.2 66.0,465.5 68.0,460.5 67.2,455.5 64.8,450.5Z M80.5,494.2 83.5,493.0 86.0,498.0 87.8,503.0 85.5,505.0 82.2,501.8Z M86.0,443.0 89.0,441.8 89.8,445.0 86.5,445.0Z M92.2,449.2 96.0,450.5 95.5,454.2 M96.0,435.5 98.5,434.2 M84.0,539.2 86.0,541.0 83.5,541.8 M77.2,548.0 78.5,550.5 M190.0,396.0 196.0,395.0 202.0,392.0 206.0,394.0 203.0,398.0 198.0,399.0 194.0,398.0Z M206.0,399.0 212.0,401.0 217.0,403.0 220.0,406.0 223.0,411.0 227.0,417.0 230.0,413.0 235.0,411.0 240.0,413.0 245.0,417.0 249.0,422.0 254.0,426.0 259.0,429.0 256.0,430.0 251.0,428.0 247.0,429.0 247.0,432.0 252.0,435.0 258.0,438.0 262.0,440.0 265.0,444.0 268.0,447.0 272.0,445.0 274.0,442.0 270.0,440.0 266.0,437.0 263.0,433.0 264.0,429.0 267.0,426.0 270.0,423.0 269.0,419.0 272.0,420.0 275.0,423.0 278.0,420.0 279.0,415.0 276.0,411.0 270.0,408.0 264.0,406.0 258.0,404.0 256.0,402.4 260.0,403.0 266.0,404.4 272.0,407.0 278.0,410.0 282.0,414.0 285.0,420.0 288.0,426.0 291.0,431.0 294.0,434.0 299.0,435.0 304.0,438.0 308.0,441.0 310.0,442.0 314.0,438.0 318.0,433.0 320.0,431.0 316.0,429.0 315.0,426.0 318.0,420.0 319.0,414.0 323.0,411.0 328.0,407.0 332.0,401.0 335.0,396.0 337.0,393.0 334.0,392.0 329.0,393.0 324.0,391.0 321.0,390.0 M278.0,444.0 284.0,443.0 292.0,442.0 300.0,441.6 308.0,441.0 M280.0,444.0 283.0,450.0 286.0,456.0 288.0,459.0 285.0,460.0 290.0,462.0 289.0,466.0 292.0,468.0 295.0,465.0 294.0,462.0 298.0,461.0 301.0,459.0 299.0,456.0 301.0,450.0 298.0,448.0 302.0,446.0 308.0,441.6 M306.0,423.0 309.0,422.0 310.0,425.0 307.0,426.0Z M314.0,427.0 317.0,428.0 M316.0,431.0 320.0,432.0 M318.0,438.0 323.0,437.0 M282.0,421.0 284.0,424.0 285.0,429.0 283.0,430.0 281.6,426.0Z M265.0,430.0 267.0,433.0 269.0,437.0 267.0,439.0 265.0,435.0Z M390.0,395.0 385.0,396.0 380.0,399.0 377.0,403.0 374.0,408.0 371.0,413.0 368.0,419.0 366.0,425.0 365.0,431.0 366.0,437.0 369.0,442.0 372.0,443.0 376.0,440.0 380.0,437.0 385.0,435.0 390.0,431.0 M390.0,429.2 392.2,426.8 396.0,425.5 401.0,428.0 406.0,429.2 412.2,426.8 418.5,424.2 423.5,421.8 426.0,418.0 M432.2,418.0 436.0,420.5 441.0,419.2 M424.8,448.0 427.2,443.0 431.0,441.8 432.2,445.5 436.0,444.2 441.0,445.5 446.0,447.5 448.5,451.8 447.2,455.5 443.5,458.0 438.5,459.2 433.5,460.0 429.8,458.0 427.2,454.2Z M459.8,471.8 462.2,473.5 M463.5,423.0 466.0,424.2 M516.0,418.0 513.5,423.0 511.0,429.2 508.5,435.5 506.0,433.0 508.5,439.2 507.2,445.5 504.8,453.0 502.2,459.2 499.8,465.5 496.0,471.8 493.5,476.8 M513.5,498.0 516.0,501.8 518.5,505.5 522.2,506.8 524.8,504.2 526.0,499.2 527.2,493.0 529.8,486.8 532.2,481.8 529.8,478.0 526.0,474.2 523.5,469.2 524.8,463.0 526.0,455.5 527.2,449.2 529.8,444.2 533.5,443.0 534.8,449.2 533.5,455.5 532.2,461.8 533.5,468.0 537.2,471.8 542.2,473.0 546.0,474.2 M546.0,479.2 542.2,481.8 541.0,478.0 M508.5,519.2 513.5,516.8 518.5,514.2 523.5,511.8 528.5,509.2 533.5,506.8 538.5,504.2 542.2,500.5 546.0,498.0 M458.0,543.0 462.0,541.0 468.0,542.0 473.0,540.0 M486.0,540.0 485.0,541.0 482.0,544.0 479.0,547.0 475.0,546.0 472.0,548.0 M475.0,546.0 473.0,550.0 469.0,552.0 464.0,552.0 461.0,553.6 461.0,556.0 464.0,557.6 468.0,559.0 471.0,562.0 473.0,566.0 474.4,571.0 474.4,576.0 473.0,581.0 471.0,585.0 468.0,584.4 463.0,583.0 458.0,583.0 452.0,582.4 447.0,582.0 443.0,581.0 439.0,583.0 438.0,589.0 437.6,595.0 436.0,600.0 435.0,605.0 434.0,610.0 435.6,613.0 434.4,617.0 433.0,621.0 437.0,621.6 442.0,622.0 445.0,624.0 446.0,628.0 448.0,630.0 450.0,628.0 454.0,627.0 459.0,626.4 464.0,626.0 468.0,625.0 471.0,622.0 474.0,619.0 477.0,617.0 478.0,613.0 477.6,609.0 480.0,605.0 483.0,601.0 486.0,598.0 489.0,595.0 492.0,592.4 493.0,588.0 495.0,585.0 500.0,584.0 505.0,583.0 509.0,581.0 513.0,579.0 515.6,577.0 M491.0,607.0 493.6,606.0 495.0,608.4 492.4,610.0Z M400.0,680.0 406.0,678.0 412.0,675.0 418.0,671.0 421.0,666.0 422.0,660.0 425.0,655.0 428.0,651.0 432.0,648.0 436.0,645.0 440.0,642.0 443.0,639.0 445.0,636.0 447.0,633.0 450.0,634.0 455.0,635.6 460.0,637.0 465.0,638.0 470.0,636.0 475.0,633.0 480.0,631.0 486.0,629.0 492.0,627.6 498.0,626.4 504.0,625.6 509.0,625.0 512.0,623.0 518.0,622.0 524.0,621.0 528.0,619.6 532.0,620.0 534.4,622.4 536.0,626.0 537.0,631.0 535.0,634.0 533.6,638.0 535.0,641.0 539.0,643.0 544.0,644.0 549.0,645.0 554.0,644.4 559.0,645.0 564.0,647.0 568.0,649.6 573.0,651.0 578.0,650.4 583.0,651.0 588.0,652.0 592.0,649.6 594.0,646.0 593.0,642.0 591.0,638.0 593.0,634.0 597.0,631.6 600.0,631.0 M434.0,644.0 437.0,642.4 438.0,645.0 435.6,646.4Z M684.8,443.0 687.2,439.2 691.0,443.0 696.0,443.0 698.5,448.0 699.8,454.2 696.0,459.2 691.0,458.0 687.2,453.0 686.0,448.0Z M659.8,474.2 663.5,469.2 669.8,467.5 676.0,469.2 677.2,473.0 674.8,478.0 671.0,481.8 672.2,485.5 678.5,486.8 684.8,485.5 689.8,488.0 691.0,484.2 696.0,483.0 700.5,484.2 699.8,489.2 697.2,491.8 702.2,493.0 707.2,494.2 712.2,498.0 717.2,500.5 719.8,503.0 717.2,508.0 714.8,513.0 709.8,515.5 704.8,518.0 699.8,519.2 694.8,515.5 691.0,510.5 689.8,504.2 682.2,503.5 674.8,503.0 668.5,501.8 662.2,499.2 657.2,496.8 656.0,490.5 658.5,485.5 658.5,479.2Z M599.8,540.5 601.0,533.0 604.8,529.2 609.8,528.0 612.2,530.5 614.8,528.0 618.5,529.2 621.0,525.5 628.5,524.2 636.0,523.0 643.5,523.0 649.8,524.2 654.8,526.8 656.0,531.8 653.5,536.8 648.5,540.5 642.2,543.0 636.0,544.2 629.8,546.8 624.8,550.5 621.0,555.5 617.2,560.5 612.2,563.0 607.2,564.2 602.2,561.8 599.8,556.8 601.0,550.5 599.8,545.5Z M617.2,528.0 618.5,521.8 621.0,516.8 624.8,511.8 627.2,508.0 626.0,514.2 623.5,519.2 621.0,523.0 619.8,528.0 M612.2,530.5 614.8,534.2 618.5,535.5 621.0,531.8 621.0,528.0 M612.2,563.0 609.8,566.8 606.0,569.2 602.2,574.2 599.8,573.0 596.0,574.2 591.0,575.5 586.0,579.2 583.5,583.0 586.0,586.8 589.8,589.2 594.8,590.5 597.2,594.2 594.8,598.0 M602.2,574.2 604.8,580.5 606.0,585.5 609.8,588.0 614.8,589.2 618.5,593.0 621.0,590.5 626.0,588.0 628.5,590.5 632.2,588.0 634.8,583.0 639.8,581.8 644.8,580.5 647.2,575.5 651.0,574.2 653.5,569.2 656.0,574.2 658.5,580.5 661.0,588.0 663.5,599.0 M646.0,590.5 649.8,586.8 652.2,584.2 651.0,588.0 647.2,591.8Z M796.0,525.5 792.2,526.8 787.2,528.0 782.2,530.5 779.8,536.8 777.2,543.0 772.2,545.5 766.0,546.8 758.5,548.0 751.0,549.2 744.8,548.0 739.8,549.2 736.0,551.8 737.2,556.8 736.5,561.8 739.8,560.5 746.0,561.8 753.5,563.0 761.0,564.2 766.0,566.8 768.5,561.8 772.2,560.5 776.0,564.2 779.8,569.2 783.5,565.5 787.2,560.5 789.8,555.5 791.0,548.0 789.8,540.5 787.2,533.0 M516.0,418.1 519.2,417.6 523.2,414.4 527.2,412.8 530.4,413.6 532.0,416.8 533.6,418.4 535.2,415.5 540.0,414.9 545.6,414.4 551.2,413.9 555.2,414.4 558.4,416.0 560.0,418.4 559.2,422.4 557.6,424.8 554.4,426.4 549.6,427.7 544.8,428.0 542.4,428.0 547.2,428.8 550.4,430.4 552.8,432.8 554.4,436.0 556.0,437.3 559.2,436.8 562.4,436.0 563.2,433.6 560.8,431.2 558.4,430.9 557.6,432.8 560.0,433.6 M560.0,418.4 561.6,421.6 562.4,425.6 565.6,427.2 567.2,428.0 564.8,429.6 562.4,428.0 M560.0,418.4 563.2,417.6 565.6,415.2 564.0,412.8 561.6,411.2 560.0,408.8 557.6,407.2 556.0,408.0 558.4,406.4 561.6,405.6 563.2,407.2 564.0,409.6 567.2,410.4 568.8,408.0 568.0,404.0 567.2,400.0 567.7,396.0 568.0,392.0 570.4,391.2 572.8,388.8 574.4,385.6 573.6,382.4 574.4,380.0 M559.7,396.8 561.6,395.2 563.2,397.3 561.6,398.9Z M550.4,380.0 552.8,383.2 556.8,384.8 561.6,384.0 566.4,381.6 568.0,380.0 M557.6,380.0 560.0,381.6 563.2,380.8 564.0,380.0 M576.0,382.4 577.6,383.2 M556.0,456.8 558.4,455.2 561.6,456.0 563.2,459.2 562.4,463.2 560.0,465.6 557.6,464.0 556.0,460.8Z M560.8,445.6 563.2,444.0 565.6,446.4 568.0,448.8 569.6,452.0 568.8,456.0 567.2,460.0 565.6,458.4 567.2,454.4 565.6,450.4 563.2,448.8Z M545.6,469.6 548.8,467.2 552.0,465.6 555.2,464.8 556.8,466.4 555.2,468.8 552.8,470.4 550.4,472.0 547.2,473.6 544.8,475.2 543.2,477.6 541.6,480.0 543.2,482.4 546.4,480.8 548.8,482.4 550.4,485.6 548.8,488.0 546.4,486.4 544.8,484.0 544.0,488.0 543.2,492.0 544.0,496.0 M504.0,440.0 506.4,436.0 508.0,433.6 509.6,431.2 M918.5,454.2 911.0,453.8 903.5,453.0 896.0,451.8 888.5,450.5 882.2,450.0 876.0,448.5 869.8,448.0 863.5,448.5 859.8,446.8 862.2,449.2 866.0,451.8 868.0,456.8 866.0,461.8 862.2,465.5 857.2,468.0 852.2,468.8 851.0,464.2 852.2,460.5 849.8,464.2 848.5,468.0 844.8,470.5 838.5,473.0 832.2,474.2 826.0,475.5 822.2,479.2 821.0,485.5 818.5,491.8 814.8,498.0 812.2,505.5 808.5,511.8 804.8,516.8 799.8,521.8 794.8,526.8 M787.2,533.0 789.8,536.8 794.8,538.0 801.0,538.0 807.2,535.5 812.2,531.8 817.2,529.2 823.5,527.5 826.0,531.8 828.5,538.0 831.0,545.5 834.8,551.8 837.2,558.0 838.5,565.5 839.0,573.0 837.2,580.5 835.5,588.0 834.0,599.0 M663.5,599.0 666.5,601.2 665.5,607.5 661.0,611.2 656.0,613.0 652.2,615.0 647.2,618.8 644.8,622.5 638.5,624.5 631.0,626.2 623.5,627.5 617.2,630.0 609.8,631.2 602.2,630.0 M663.5,620.0 668.5,622.5 673.5,625.0 678.5,626.2 682.2,621.2 686.0,621.2 693.5,623.8 701.0,627.5 708.5,631.2 716.0,633.8 723.5,633.8 728.5,637.5 733.5,642.5 739.8,646.2 746.0,647.5 752.2,646.2 758.5,648.8 766.0,651.2 773.5,653.8 778.5,657.5 783.5,661.2 789.8,665.0 796.0,667.5 M663.5,620.0 667.2,623.8 672.2,626.2 678.5,628.8 683.5,632.5 689.8,637.5 696.0,641.2 702.2,645.0 707.2,648.8 712.2,650.0 718.5,649.5 722.2,652.5 727.2,657.5 732.2,662.5 737.2,666.2 741.0,668.8 746.0,667.5 752.2,668.8 758.5,672.5 764.8,676.2 769.8,677.5 774.8,678.8 779.8,677.0 786.0,676.2 796.0,676.2 M682.2,621.2 679.8,616.2 677.2,613.8 678.5,618.8 680.5,623.8 681.8,626.2 M601.0,610.5 606.0,608.8 611.5,606.2 615.5,605.0 614.8,607.5 609.8,610.0 604.8,612.0Z M833.0,598.8 833.5,603.8 836.5,606.2 834.0,611.2 832.2,617.5 829.8,622.5 828.0,628.8 827.2,635.0 826.5,641.2 824.0,647.5 822.2,652.5 818.5,655.0 816.0,658.8 813.5,663.8 811.5,668.8 808.5,672.5 805.5,674.5 801.0,672.5 796.0,668.8 M796.0,676.8 799.8,677.5 808.5,678.8 810.5,682.0 808.5,683.8 814.8,684.5 821.0,685.5 826.0,683.8 829.8,680.0 831.0,675.0 834.8,671.2 838.0,666.2 840.5,660.0 843.5,653.8 846.5,648.8 849.0,643.8 850.5,637.5 853.0,634.5 855.5,632.5 858.5,636.2 862.2,641.2 866.0,645.0 869.8,648.8 871.5,655.0 873.5,661.2 876.5,667.5 879.8,673.8 883.0,680.0 884.8,685.0 884.8,692.5 M862.2,611.2 864.8,607.5 868.0,605.0 868.0,608.8 865.5,612.5 863.0,615.0Z M400.0,680.0 396.0,683.8 392.2,686.2 388.5,688.8 384.8,692.5 M375.5,669.5 378.0,671.2 376.5,672.5 M381.5,673.0 383.5,674.5 382.0,675.5Z M392.2,673.8 394.8,669.5 396.5,668.8 394.8,673.0 393.0,676.2Z M341.0,579.5 343.5,581.2 M351.5,590.0 354.8,592.0 M506.7,580.9 510.0,580.4 513.3,577.6 516.6,576.5 520.5,577.1 523.2,579.3 525.4,582.1 528.7,584.8 532.1,586.5 534.8,587.0 536.5,588.9 539.8,590.3 543.1,591.8 546.4,593.1 549.7,594.7 552.4,596.9 554.7,599.7 556.1,603.0 556.3,605.8 555.2,608.5 556.3,606.3 558.0,604.3 560.2,602.8 561.3,600.6 560.2,598.0 558.7,595.5 558.3,593.1 559.1,591.8 561.8,591.8 565.7,592.5 566.0,590.9 562.4,588.9 557.4,587.0 551.9,585.1 546.4,583.7 542.0,582.9 537.0,584.0 535.4,583.4 538.1,582.6 540.3,581.5 538.9,579.6 537.0,577.6 534.8,575.4 533.2,573.2 531.5,571.0 530.4,568.3 531.5,565.5 533.7,564.4 536.5,565.5 538.7,567.9 540.9,566.6 543.1,568.6 545.3,571.0 549.7,573.2 554.1,574.3 558.5,576.5 562.9,578.2 567.3,580.4 569.5,583.7 570.6,587.0 573.9,590.3 578.4,593.1 581.7,595.3 585.0,597.5 587.2,596.4 590.5,595.3 593.8,596.4 597.1,594.2 598.2,592.5 596.0,592.0 M540.9,612.4 543.1,610.9 548.6,610.5 553.6,609.1 555.4,609.4 556.3,611.8 557.4,614.6 556.9,616.4 554.7,617.6 551.3,617.1 547.5,616.0 543.1,614.6 541.4,613.5Z M518.8,587.0 520.5,583.7 521.6,583.2 522.1,586.5 522.3,590.3 521.0,593.1 519.4,592.5 518.6,589.8Z M517.7,598.0 519.9,596.4 522.7,596.4 524.9,598.0 525.4,601.9 525.2,605.2 524.3,608.5 522.1,609.6 520.5,608.0 519.4,604.1 518.3,600.8Z M583.3,600.2 586.1,597.5 589.4,595.8 591.6,596.9 593.2,598.6 592.1,600.2 594.3,603.0 596.5,605.2 593.8,604.7 591.6,604.1 588.8,605.8 587.2,604.1 586.1,602.4Z M603.2,579.8 604.8,578.7 606.5,581.5 608.1,584.8 606.5,585.9 604.8,583.2Z M700.5,152.4 702.7,150.8 703.2,146.4 704.9,141.4 706.5,136.5 709.3,132.6 713.2,128.7 717.0,127.1 719.8,127.6 723.1,130.9 726.4,133.7 731.3,135.4 729.7,137.6 726.4,139.2 722.0,140.3 719.2,143.1 716.5,145.8 714.8,148.0 715.9,151.3 717.0,154.1 715.9,156.9 712.1,158.5 708.2,159.6 708.2,162.9 709.3,166.2 711.5,169.0 714.8,171.2 718.7,172.8 722.0,173.9 720.9,175.6 718.1,176.2 714.3,176.2 710.9,177.3 709.6,179.5 710.4,181.7 713.2,182.8 716.5,183.3 719.8,185.0 723.1,186.1 726.4,187.2 727.5,190.0 M733.6,190.0 734.7,185.0 735.8,181.7 736.3,178.9 735.2,176.2 732.4,175.0 730.2,173.4 729.7,170.1 728.0,167.3 726.4,164.6 729.1,163.5 731.3,166.2 734.1,167.9 737.4,169.0 740.7,170.1 744.0,171.2 746.0,171.0 M457.6,498.2 459.2,495.4 462.0,494.3 465.3,494.1 469.1,494.3 469.7,496.5 467.5,498.2 468.0,499.8 471.3,499.6 472.4,501.5 471.3,504.8 469.1,507.0 470.2,509.2 472.4,512.0 474.1,515.3 476.3,518.0 478.5,520.8 479.1,524.1 480.2,526.3 482.9,527.4 485.1,529.6 484.6,532.4 482.9,534.6 481.3,536.8 482.9,537.9 481.8,540.1 479.6,540.6 476.3,540.4 474.1,540.6 471.9,540.4 469.7,540.9 467.5,540.4 465.3,541.7 463.1,542.6 460.3,542.8 458.1,543.7 459.8,541.7 462.0,540.1 464.2,538.4 466.9,537.3 468.6,535.1 466.4,535.7 463.6,536.2 461.4,534.6 460.9,531.8 463.1,530.7 464.2,528.5 462.5,526.9 463.1,524.1 465.3,523.0 468.0,521.9 468.6,519.1 466.9,517.5 464.7,516.9 463.1,516.4 462.5,513.6 461.4,510.9 460.3,508.1 460.9,505.4 459.8,502.6 459.2,500.4Z M444.9,520.8 446.0,517.5 448.7,515.3 451.5,513.1 454.8,512.5 457.6,513.6 459.2,515.8 459.8,518.6 458.1,520.2 457.0,523.0 457.6,526.3 456.5,529.6 453.7,530.7 450.9,531.3 447.6,531.8 444.3,531.8 442.7,530.2 443.8,528.0 446.5,526.3 445.4,523.6Z M491.7,480.0 492.8,483.3 493.9,486.1 496.2,487.2 495.0,489.9 496.2,493.2 498.9,496.0 501.7,496.5 504.4,493.8 507.2,490.5 509.4,487.7 511.0,489.9 512.7,493.8 514.3,497.6 M485.1,541.2 487.3,538.4 490.1,536.2 492.8,534.0 494.5,531.8 495.0,528.5 496.2,525.8 498.9,523.6 502.2,522.4 505.5,520.8 507.7,518.6 508.3,515.3 507.2,512.0 506.1,508.7 505.0,505.9 503.9,503.2 506.1,501.5 508.3,499.3 509.9,497.6 511.0,499.8 510.5,503.2 512.1,505.4 513.8,503.7 514.9,505.9 514.3,508.7 512.7,510.3 514.3,512.5 516.5,513.1 518.2,511.4 519.9,509.2 521.5,510.9 519.3,513.1 517.1,515.3 514.9,518.0 513.2,515.3 510.5,513.6 508.3,515.3 M496.2,526.9 498.4,526.3 499.5,528.5 497.8,530.2 496.2,529.1Z M495.6,531.3 498.4,530.7 499.5,532.9 497.8,534.6 495.9,533.8Z M496.2,535.1 498.9,534.6 500.3,536.8 498.4,538.4 496.2,537.9Z M493.4,538.4 495.6,537.9 496.2,540.1 494.5,541.2 492.8,540.1Z M475.2,483.9 476.9,485.5 478.5,486.6 M469.1,489.9 471.3,491.6 M114.0,412.8 110.8,416.0 M107.6,419.2 104.4,422.4 M101.2,425.6 98.0,428.8 M95.6,434.4 98.0,437.6 M97.5,443.2 97.2,446.4 M95.6,449.6 95.9,453.6 M86.0,441.9 90.0,445.6 86.8,445.6Z M116.4,400.0 119.6,401.6 121.2,404.8 118.8,408.0 115.6,407.2"/>
</g>
<g clip-path="url(#clip)" fill="none" stroke="#000" stroke-width="1">
<path d="M164.4,233.1 163.1,232.0 162.9,230.4 164.0,229.1 165.6,228.9 166.9,230.0 167.1,231.6 166.0,232.9Z M165.4,235.9 164.4,239.0 M166.5,243.3 167.5,244.7 160.0,242.4 M166.0,249.6 165.4,251.7 163.8,252.4 158.8,250.9 157.9,249.4 158.5,247.3 160.1,246.6 165.1,248.1 166.0,249.6"/>
<path d="M245.6,282.2 244.2,281.2 243.8,279.6 244.8,278.2 246.4,277.8 247.8,278.8 248.2,280.4 247.2,281.8Z M250.6,289.4 251.4,285.1 248.2,284.5 248.4,285.7 248.0,287.8 246.5,288.7 244.2,288.2 243.1,286.9 243.6,284.7 245.0,283.9"/>
<path d="M297.1,248.0 296.0,246.8 296.0,245.1 297.2,244.0 298.9,244.0 300.0,245.2 300.0,246.9 298.8,248.0Z M300.4,256.2 302.2,252.2 299.2,250.9 299.1,252.1 298.2,254.1 296.6,254.6 294.4,253.6 293.7,252.1 294.6,250.1 296.2,249.6"/>
<path d="M312.8,314.2 311.3,313.4 310.8,311.8 311.6,310.3 313.2,309.8 314.7,310.6 315.2,312.2 314.4,313.7Z M318.6,320.9 319.0,316.5 315.7,316.2 316.0,317.4 315.8,319.6 314.5,320.5 312.1,320.4 310.9,319.2 311.1,317.0 312.5,316.0"/>
<path d="M140.2,363.2 138.6,362.7 137.8,361.2 138.3,359.6 139.8,358.8 141.4,359.3 142.2,360.8 141.7,362.4Z M145.5,365.5 146.9,366.5 139.2,367.3 M147.3,370.5 147.8,374.9 144.3,373.0 144.4,374.1 143.3,375.3 141.3,375.5 139.9,374.6 139.7,372.4 140.9,371.2"/>
<path d="M659.9,313.8 661.5,314.4 662.2,315.9 661.6,317.5 660.1,318.2 658.5,317.6 657.8,316.1 658.4,314.5Z M658.0,311.5 657.9,308.2 M654.5,306.1 653.1,305.0 653.0,302.8 654.3,301.7 655.6,301.6 661.0,305.7 660.8,301.3 M652.6,295.6 652.9,299.9 656.1,299.8 655.7,298.7 655.6,296.5 656.8,295.3 659.1,295.2 660.5,296.2 660.6,298.4 659.4,299.6"/>
<path d="M688.6,387.9 689.9,389.0 690.1,390.6 689.0,391.9 687.4,392.1 686.1,391.0 685.9,389.4 687.0,388.1Z M687.7,385.1 688.6,382.0 M686.6,377.7 685.6,376.3 693.1,378.6 M695.3,371.6 687.8,369.3 691.8,374.0 693.1,369.8"/>
<path d="M744.8,429.0 746.0,430.1 746.0,431.8 744.9,433.0 743.2,433.0 742.0,431.9 742.0,430.2 743.1,429.0Z M744.1,426.1 745.3,423.1 M746.6,416.3 747.4,417.8 746.6,419.9 744.9,420.4 743.1,419.7 742.3,418.2 743.1,416.1 744.8,415.6 749.6,417.5 750.4,419.0 749.6,421.1 748.0,421.6"/>
<path d="M783.6,406.9 784.9,407.9 785.1,409.6 784.1,410.9 782.4,411.1 781.1,410.1 780.9,408.4 781.9,407.1Z M778.3,402.4 778.9,400.3 780.4,399.6 781.7,399.9 782.6,401.3 782.0,403.4 780.5,404.2 779.2,403.8 778.3,402.4 M782.0,403.4 783.0,404.9 784.3,405.2 785.8,404.5 786.4,402.4 785.4,401.0 784.2,400.6 782.6,401.3"/>
<path d="M823.5,401.9 824.9,402.8 825.1,404.5 824.2,405.9 822.5,406.1 821.1,405.2 820.9,403.5 821.8,402.1Z M818.7,394.4 817.7,398.7 820.9,399.4 820.8,398.3 821.3,396.1 822.8,395.3 825.1,395.9 826.1,397.2 825.6,399.4 824.1,400.1"/>
<path d="M844.7,436.9 845.9,438.0 846.1,439.7 845.0,440.9 843.3,441.1 842.1,440.0 841.9,438.3 843.0,437.1Z M839.5,432.3 840.2,430.2 841.7,429.5 843.0,429.9 843.9,431.3 843.2,433.4 841.7,434.1 840.4,433.7 839.5,432.3 M843.2,433.4 844.1,434.9 845.4,435.2 846.9,434.6 847.6,432.5 846.7,431.0 845.4,430.7 843.9,431.3"/>
<path d="M890.6,442.4 891.9,443.4 892.1,445.1 891.1,446.4 889.4,446.6 888.1,445.6 887.9,443.9 888.9,442.6Z M889.6,439.6 890.5,436.5 M886.8,432.9 888.0,428.7 890.5,431.7 890.8,430.7 892.4,430.0 894.3,430.5 895.2,432.0 894.6,434.1 893.0,434.8"/>
<path d="M851.3,370.8 852.7,371.7 853.2,373.3 852.3,374.7 850.7,375.2 849.3,374.3 848.8,372.7 849.7,371.3Z M846.7,367.3 845.5,366.0 853.3,367.0 M846.6,357.7 846.0,362.1 849.3,362.5 849.0,361.4 849.3,359.2 850.7,358.2 853.1,358.5 854.2,359.8 853.9,362.0 852.5,362.9"/>
<path d="M589.9,511.9 590.1,513.6 589.1,514.9 587.4,515.1 586.1,514.1 585.9,512.4 586.9,511.1 588.6,510.9Z M591.1,509.2 593.9,507.5 M595.2,503.0 595.5,501.3 599.5,508.1 M602.8,497.1 599.0,499.3 600.6,502.1 601.4,501.2 603.3,500.1 604.9,500.7 606.1,502.7 605.8,504.4 603.9,505.5 602.3,504.9"/>
<path d="M623.8,525.7 624.2,527.4 623.3,528.8 621.6,529.2 620.2,528.3 619.8,526.6 620.7,525.2 622.4,524.8Z M623.3,520.0 623.4,518.3 627.9,524.6 M631.0,514.5 629.4,514.0 627.6,515.3 627.4,517.0 630.4,521.3 632.1,521.7 633.9,520.4 634.0,518.7 632.9,517.1 631.2,516.7 629.4,518.0 629.3,519.7"/>
<path d="M662.6,520.5 663.2,522.1 662.5,523.6 660.9,524.2 659.4,523.5 658.8,521.9 659.5,520.4 661.1,519.8Z M663.1,517.6 665.6,515.4 M665.9,510.7 665.8,509.0 671.1,514.7 M668.7,506.2 672.0,503.2 672.6,507.1 673.4,506.4 675.1,506.6 676.4,508.0 676.5,509.7 674.9,511.2 673.2,511.0"/>
<path d="M553.1,519.2 553.0,520.9 551.8,522.1 550.1,522.0 548.9,520.8 549.0,519.1 550.2,517.9 551.9,518.0Z M554.7,516.8 557.7,515.6 M563.6,512.1 563.0,513.7 561.0,514.4 559.5,513.6 558.8,511.8 559.4,510.2 561.5,509.4 562.9,510.2 564.8,515.1 564.2,516.7 562.1,517.5 560.6,516.6"/>
<path d="M527.1,523.5 526.9,525.2 525.5,526.1 523.8,525.9 522.9,524.5 523.1,522.8 524.5,521.9 526.2,522.1Z M529.0,521.3 532.2,520.5 M534.9,516.6 535.6,515.1 537.4,522.6 M539.5,514.1 543.8,513.1 542.4,516.8 543.5,516.6 544.9,517.6 545.3,519.5 544.5,521.0 542.4,521.5 541.0,520.5"/>
<path d="M538.1,533.4 537.9,535.1 536.6,536.1 534.9,535.9 533.9,534.6 534.1,532.9 535.4,531.9 537.1,532.1Z M538.5,528.1 539.3,526.6 541.4,526.0 542.8,527.0 543.1,528.2 540.3,534.4 544.5,533.2"/>
<path d="M476.0,590.0 479.0,587.0 482.0,590.0 479.0,593.0Z M484.1,585.0 485.2,583.7 485.2,591.5 M489.2,583.7 493.6,583.7 490.9,591.5"/>
<path d="M434.2,608.4 433.3,609.8 431.6,610.2 430.2,609.3 429.8,607.6 430.7,606.2 432.4,605.8 433.8,606.7Z M441.1,604.4 440.2,603.0 438.1,602.6 436.8,603.7 435.9,608.8 436.8,610.3 439.0,610.7 440.3,609.6 440.6,607.6 439.7,606.2 437.5,605.8 436.2,606.9"/>
<path d="M546.1,579.5 545.9,581.1 544.5,582.1 542.9,581.9 541.9,580.5 542.1,578.9 543.5,577.9 545.1,578.1Z M550.6,571.8 546.3,572.9 547.1,576.1 548.1,575.4 550.2,574.9 551.6,575.8 552.2,578.1 551.4,579.6 549.3,580.2 547.9,579.2"/>
<path d="M525.2,606.7 524.8,608.3 523.3,609.2 521.7,608.8 520.8,607.3 521.2,605.7 522.7,604.8 524.3,605.2Z M527.2,604.6 530.5,604.1 M533.4,600.3 534.3,598.9 535.5,606.6 M539.3,598.1 541.5,597.7 542.8,598.8 543.6,604.0 542.7,605.4 540.5,605.8 539.2,604.6 538.4,599.5 539.3,598.1"/>
<path d="M559.1,599.4 558.9,601.1 557.6,602.1 555.9,601.9 554.9,600.6 555.1,598.9 556.4,597.9 558.1,598.1Z M560.2,592.5 562.3,591.9 563.7,592.9 564.1,594.1 563.4,595.7 561.2,596.3 559.8,595.3 559.5,594.1 560.2,592.5 M561.2,596.3 560.5,597.8 560.9,599.1 562.3,600.0 564.4,599.4 565.1,597.9 564.8,596.6 563.4,595.7"/>
<path d="M523.1,498.5 522.9,500.1 521.5,501.1 519.9,500.9 518.9,499.5 519.1,497.9 520.5,496.9 522.1,497.1Z M528.4,498.7 526.6,491.2 524.6,497.0 528.9,495.9"/>
</g>
<rect x="46.5" y="56.5" width="872" height="636" fill="none" stroke="#000" stroke-width="1"/>
<rect x="931.5" y="107.50" width="32.0" height="25.5" fill="#FFCCCC" stroke="#000" stroke-width="1"/>
<rect x="931.5" y="133.00" width="32.0" height="25.5" fill="#FF99CC" stroke="#000" stroke-width="1"/>
<rect x="931.5" y="158.50" width="32.0" height="25.5" fill="#CC66CC" stroke="#000" stroke-width="1"/>
<rect x="931.5" y="184.00" width="32.0" height="25.5" fill="#9900CC" stroke="#000" stroke-width="1"/>
<rect x="931.5" y="209.50" width="32.0" height="25.5" fill="#FF0000" stroke="#000" stroke-width="1"/>
<rect x="931.5" y="235.00" width="32.0" height="25.5" fill="#FF6600" stroke="#000" stroke-width="1"/>
<rect x="931.5" y="260.50" width="32.0" height="25.5" fill="#FF9966" stroke="#000" stroke-width="1"/>
<rect x="931.5" y="286.00" width="32.0" height="25.5" fill="#FFCC00" stroke="#000" stroke-width="1"/>
<rect x="931.5" y="311.50" width="32.0" height="25.5" fill="#FFFF00" stroke="#000" stroke-width="1"/>
<rect x="931.5" y="337.00" width="32.0" height="25.5" fill="#FFFF99" stroke="#000" stroke-width="1"/>
<rect x="931.5" y="362.50" width="32.0" height="25.5" fill="url(#dY)" stroke="#000" stroke-width="1"/>
<rect x="931.5" y="388.00" width="32.0" height="25.5" fill="url(#dG)" stroke="#000" stroke-width="1"/>
<rect x="931.5" y="413.50" width="32.0" height="25.5" fill="#99FF99" stroke="#000" stroke-width="1"/>
<rect x="931.5" y="439.00" width="32.0" height="25.5" fill="#00FF00" stroke="#000" stroke-width="1"/>
<rect x="931.5" y="464.50" width="32.0" height="25.5" fill="#99FFFF" stroke="#000" stroke-width="1"/>
<rect x="931.5" y="490.00" width="32.0" height="25.5" fill="#80CCFF" stroke="#000" stroke-width="1"/>
<rect x="931.5" y="515.50" width="32.0" height="25.5" fill="#6699FF" stroke="#000" stroke-width="1"/>
<rect x="931.5" y="541.00" width="32.0" height="25.5" fill="#8066FF" stroke="#000" stroke-width="1"/>
<rect x="931.5" y="566.50" width="32.0" height="25.5" fill="#FF00FF" stroke="#000" stroke-width="1"/>
<rect x="931.5" y="592.00" width="32.0" height="25.5" fill="#669999" stroke="#000" stroke-width="1"/>
<rect x="931.5" y="617.50" width="32.0" height="25.5" fill="#99CCCC" stroke="#000" stroke-width="1"/>
<text transform="translate(970,143.0) scale(0.74,1)" font-size="28" class="t" style="shape-rendering:auto;stroke-width:0.9px">50</text>
<text transform="translate(970,194.0) scale(0.74,1)" font-size="28" class="t" style="shape-rendering:auto;stroke-width:0.9px">40</text>
<text transform="translate(970,245.0) scale(0.74,1)" font-size="28" class="t" style="shape-rendering:auto;stroke-width:0.9px">30</text>
<text transform="translate(970,296.0) scale(0.74,1)" font-size="28" class="t" style="shape-rendering:auto;stroke-width:0.9px">20</text>
<text transform="translate(970,347.0) scale(0.74,1)" font-size="28" class="t" style="shape-rendering:auto;stroke-width:0.9px">10</text>
<text transform="translate(970,398.0) scale(0.74,1)" font-size="28" class="t" style="shape-rendering:auto;stroke-width:0.9px">0</text>
<text transform="translate(970,449.0) scale(0.74,1)" font-size="28" class="t" style="shape-rendering:auto;stroke-width:0.9px">-10</text>
<text transform="translate(970,500.0) scale(0.74,1)" font-size="28" class="t" style="shape-rendering:auto;stroke-width:0.9px">-20</text>
<text transform="translate(970,551.0) scale(0.74,1)" font-size="28" class="t" style="shape-rendering:auto;stroke-width:0.9px">-30</text>
<text transform="translate(970,602.0) scale(0.74,1)" font-size="28" class="t" style="shape-rendering:auto;stroke-width:0.9px">-40</text>
<text transform="translate(970,653.0) scale(0.74,1)" font-size="28" class="t" style="shape-rendering:auto;stroke-width:0.9px">-50</text>
<text transform="translate(193.9,35.6) scale(0.8565,1)" font-size="36" class="t" style="shape-rendering:auto;stroke-width:0.8px">Deviations (%) / Ecarts (%), 1973/12/21</text>
</svg></body></html>
